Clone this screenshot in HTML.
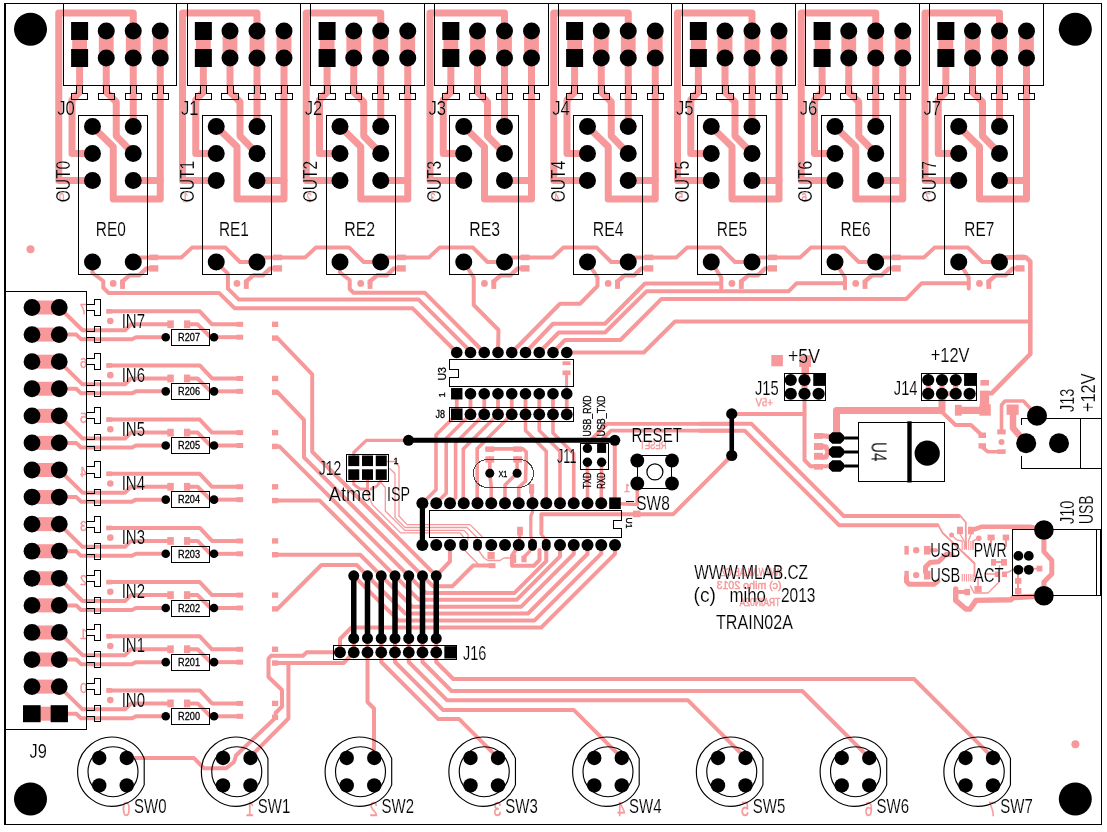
<!DOCTYPE html>
<html><head><meta charset="utf-8"><title>TRAIN02A</title>
<style>
html,body{margin:0;padding:0;background:#fff;}
svg{display:block;}
text{font-family:"Liberation Sans",sans-serif;}
#labels text.b{stroke:#fff;stroke-width:0.15px;}
#labels text.s{stroke:#000;stroke-width:0.3px;}
#cutext text{stroke:#F7999B;stroke-width:0.45px;}
#labels,#cutext{opacity:0.999;}
</style></head><body>
<svg width="1107" height="832" viewBox="0 0 1107 832">
<rect width="1107" height="832" fill="#fff"/>
<g id="cu">
<circle cx="30.5" cy="249.25" r="4" fill="#F7999B"/>
<circle cx="1075.4" cy="744.2" r="4" fill="#F7999B"/>
<path d="M79.6 31 L79.6 58" fill="none" stroke="#F7999B" stroke-width="14.8" stroke-linecap="butt" stroke-linejoin="round"/>
<path d="M106.25 31 L106.25 58" fill="none" stroke="#F7999B" stroke-width="14.8" stroke-linecap="butt" stroke-linejoin="round"/>
<path d="M133.25 31 L133.25 58" fill="none" stroke="#F7999B" stroke-width="14.8" stroke-linecap="butt" stroke-linejoin="round"/>
<path d="M160.25 31 L160.25 58" fill="none" stroke="#F7999B" stroke-width="14.8" stroke-linecap="butt" stroke-linejoin="round"/>
<path d="M79.6 58 L79.6 92 L72 100 L72 153.5 L92.5 153.5" fill="none" stroke="#F7999B" stroke-width="7" stroke-linecap="round" stroke-linejoin="round"/>
<path d="M106.25 58 L106.25 92 L116.25 102 L116.25 136 L133.25 153.5" fill="none" stroke="#F7999B" stroke-width="7" stroke-linecap="round" stroke-linejoin="round"/>
<path d="M133.25 58 L133.25 126.5" fill="none" stroke="#F7999B" stroke-width="7" stroke-linecap="round" stroke-linejoin="round"/>
<path d="M160.25 58 L160.25 199 L113.25 199 L113.25 146.75 L92.5 126.5" fill="none" stroke="#F7999B" stroke-width="7" stroke-linecap="round" stroke-linejoin="round"/>
<path d="M160.25 180.5 L133.25 180.5" fill="none" stroke="#F7999B" stroke-width="7" stroke-linecap="round" stroke-linejoin="round"/>
<path d="M133.25 31 L133.25 13 L58.75 13 L58.75 180.5 L92.5 180.5" fill="none" stroke="#F7999B" stroke-width="7" stroke-linecap="round" stroke-linejoin="round"/>
<path d="M133.25 257.4 L181.5 257.4 L192 247.6 L225.5 247.6 L240 262 L257 262" fill="none" stroke="#F7999B" stroke-width="4" stroke-linecap="round" stroke-linejoin="round"/>
<rect x="149.3" y="254.6" width="9" height="5.6" fill="#F7999B"/>
<rect x="149.3" y="265.2" width="9" height="6.4" fill="#F7999B"/>
<circle cx="113.2" cy="283.4" r="3.4" fill="#F7999B"/>
<path d="M122.5 284 L122.5 281.3 L129.5 275.3 L139 275.3 L146.5 268.4 L151 268.4" fill="none" stroke="#F7999B" stroke-width="4.4" stroke-linecap="round" stroke-linejoin="round"/>
<rect x="120.1" y="279.7" width="4.9" height="9.2" fill="#F7999B"/>
<path d="M203.35 31 L203.35 58" fill="none" stroke="#F7999B" stroke-width="14.8" stroke-linecap="butt" stroke-linejoin="round"/>
<path d="M230 31 L230 58" fill="none" stroke="#F7999B" stroke-width="14.8" stroke-linecap="butt" stroke-linejoin="round"/>
<path d="M257 31 L257 58" fill="none" stroke="#F7999B" stroke-width="14.8" stroke-linecap="butt" stroke-linejoin="round"/>
<path d="M284 31 L284 58" fill="none" stroke="#F7999B" stroke-width="14.8" stroke-linecap="butt" stroke-linejoin="round"/>
<path d="M203.35 58 L203.35 92 L195.75 100 L195.75 153.5 L216.25 153.5" fill="none" stroke="#F7999B" stroke-width="7" stroke-linecap="round" stroke-linejoin="round"/>
<path d="M230 58 L230 92 L240 102 L240 136 L257 153.5" fill="none" stroke="#F7999B" stroke-width="7" stroke-linecap="round" stroke-linejoin="round"/>
<path d="M257 58 L257 126.5" fill="none" stroke="#F7999B" stroke-width="7" stroke-linecap="round" stroke-linejoin="round"/>
<path d="M284 58 L284 199 L237 199 L237 146.75 L216.25 126.5" fill="none" stroke="#F7999B" stroke-width="7" stroke-linecap="round" stroke-linejoin="round"/>
<path d="M284 180.5 L257 180.5" fill="none" stroke="#F7999B" stroke-width="7" stroke-linecap="round" stroke-linejoin="round"/>
<path d="M257 31 L257 13 L182.5 13 L182.5 180.5 L216.25 180.5" fill="none" stroke="#F7999B" stroke-width="7" stroke-linecap="round" stroke-linejoin="round"/>
<path d="M257 257.4 L305.25 257.4 L315.75 247.6 L349.25 247.6 L363.75 262 L380.75 262" fill="none" stroke="#F7999B" stroke-width="4" stroke-linecap="round" stroke-linejoin="round"/>
<rect x="273.05" y="254.6" width="9" height="5.6" fill="#F7999B"/>
<rect x="273.05" y="265.2" width="9" height="6.4" fill="#F7999B"/>
<circle cx="236.95" cy="283.4" r="3.4" fill="#F7999B"/>
<path d="M246.25 284 L246.25 281.3 L253.25 275.3 L262.75 275.3 L270.25 268.4 L274.75 268.4" fill="none" stroke="#F7999B" stroke-width="4.4" stroke-linecap="round" stroke-linejoin="round"/>
<rect x="243.85" y="279.7" width="4.9" height="9.2" fill="#F7999B"/>
<path d="M327.1 31 L327.1 58" fill="none" stroke="#F7999B" stroke-width="14.8" stroke-linecap="butt" stroke-linejoin="round"/>
<path d="M353.75 31 L353.75 58" fill="none" stroke="#F7999B" stroke-width="14.8" stroke-linecap="butt" stroke-linejoin="round"/>
<path d="M380.75 31 L380.75 58" fill="none" stroke="#F7999B" stroke-width="14.8" stroke-linecap="butt" stroke-linejoin="round"/>
<path d="M407.75 31 L407.75 58" fill="none" stroke="#F7999B" stroke-width="14.8" stroke-linecap="butt" stroke-linejoin="round"/>
<path d="M327.1 58 L327.1 92 L319.5 100 L319.5 153.5 L340 153.5" fill="none" stroke="#F7999B" stroke-width="7" stroke-linecap="round" stroke-linejoin="round"/>
<path d="M353.75 58 L353.75 92 L363.75 102 L363.75 136 L380.75 153.5" fill="none" stroke="#F7999B" stroke-width="7" stroke-linecap="round" stroke-linejoin="round"/>
<path d="M380.75 58 L380.75 126.5" fill="none" stroke="#F7999B" stroke-width="7" stroke-linecap="round" stroke-linejoin="round"/>
<path d="M407.75 58 L407.75 199 L360.75 199 L360.75 146.75 L340 126.5" fill="none" stroke="#F7999B" stroke-width="7" stroke-linecap="round" stroke-linejoin="round"/>
<path d="M407.75 180.5 L380.75 180.5" fill="none" stroke="#F7999B" stroke-width="7" stroke-linecap="round" stroke-linejoin="round"/>
<path d="M380.75 31 L380.75 13 L306.25 13 L306.25 180.5 L340 180.5" fill="none" stroke="#F7999B" stroke-width="7" stroke-linecap="round" stroke-linejoin="round"/>
<path d="M380.75 257.4 L429 257.4 L439.5 247.6 L473 247.6 L487.5 262 L504.5 262" fill="none" stroke="#F7999B" stroke-width="4" stroke-linecap="round" stroke-linejoin="round"/>
<rect x="396.8" y="254.6" width="9" height="5.6" fill="#F7999B"/>
<rect x="396.8" y="265.2" width="9" height="6.4" fill="#F7999B"/>
<circle cx="360.7" cy="283.4" r="3.4" fill="#F7999B"/>
<path d="M370 284 L370 281.3 L377 275.3 L386.5 275.3 L394 268.4 L398.5 268.4" fill="none" stroke="#F7999B" stroke-width="4.4" stroke-linecap="round" stroke-linejoin="round"/>
<rect x="367.6" y="279.7" width="4.9" height="9.2" fill="#F7999B"/>
<path d="M450.85 31 L450.85 58" fill="none" stroke="#F7999B" stroke-width="14.8" stroke-linecap="butt" stroke-linejoin="round"/>
<path d="M477.5 31 L477.5 58" fill="none" stroke="#F7999B" stroke-width="14.8" stroke-linecap="butt" stroke-linejoin="round"/>
<path d="M504.5 31 L504.5 58" fill="none" stroke="#F7999B" stroke-width="14.8" stroke-linecap="butt" stroke-linejoin="round"/>
<path d="M531.5 31 L531.5 58" fill="none" stroke="#F7999B" stroke-width="14.8" stroke-linecap="butt" stroke-linejoin="round"/>
<path d="M450.85 58 L450.85 92 L443.25 100 L443.25 153.5 L463.75 153.5" fill="none" stroke="#F7999B" stroke-width="7" stroke-linecap="round" stroke-linejoin="round"/>
<path d="M477.5 58 L477.5 92 L487.5 102 L487.5 136 L504.5 153.5" fill="none" stroke="#F7999B" stroke-width="7" stroke-linecap="round" stroke-linejoin="round"/>
<path d="M504.5 58 L504.5 126.5" fill="none" stroke="#F7999B" stroke-width="7" stroke-linecap="round" stroke-linejoin="round"/>
<path d="M531.5 58 L531.5 199 L484.5 199 L484.5 146.75 L463.75 126.5" fill="none" stroke="#F7999B" stroke-width="7" stroke-linecap="round" stroke-linejoin="round"/>
<path d="M531.5 180.5 L504.5 180.5" fill="none" stroke="#F7999B" stroke-width="7" stroke-linecap="round" stroke-linejoin="round"/>
<path d="M504.5 31 L504.5 13 L430 13 L430 180.5 L463.75 180.5" fill="none" stroke="#F7999B" stroke-width="7" stroke-linecap="round" stroke-linejoin="round"/>
<path d="M504.5 257.4 L552.75 257.4 L563.25 247.6 L596.75 247.6 L611.25 262 L628.25 262" fill="none" stroke="#F7999B" stroke-width="4" stroke-linecap="round" stroke-linejoin="round"/>
<rect x="520.55" y="254.6" width="9" height="5.6" fill="#F7999B"/>
<rect x="520.55" y="265.2" width="9" height="6.4" fill="#F7999B"/>
<circle cx="484.45" cy="283.4" r="3.4" fill="#F7999B"/>
<path d="M493.75 284 L493.75 281.3 L500.75 275.3 L510.25 275.3 L517.75 268.4 L522.25 268.4" fill="none" stroke="#F7999B" stroke-width="4.4" stroke-linecap="round" stroke-linejoin="round"/>
<rect x="491.35" y="279.7" width="4.9" height="9.2" fill="#F7999B"/>
<path d="M574.6 31 L574.6 58" fill="none" stroke="#F7999B" stroke-width="14.8" stroke-linecap="butt" stroke-linejoin="round"/>
<path d="M601.25 31 L601.25 58" fill="none" stroke="#F7999B" stroke-width="14.8" stroke-linecap="butt" stroke-linejoin="round"/>
<path d="M628.25 31 L628.25 58" fill="none" stroke="#F7999B" stroke-width="14.8" stroke-linecap="butt" stroke-linejoin="round"/>
<path d="M655.25 31 L655.25 58" fill="none" stroke="#F7999B" stroke-width="14.8" stroke-linecap="butt" stroke-linejoin="round"/>
<path d="M574.6 58 L574.6 92 L567 100 L567 153.5 L587.5 153.5" fill="none" stroke="#F7999B" stroke-width="7" stroke-linecap="round" stroke-linejoin="round"/>
<path d="M601.25 58 L601.25 92 L611.25 102 L611.25 136 L628.25 153.5" fill="none" stroke="#F7999B" stroke-width="7" stroke-linecap="round" stroke-linejoin="round"/>
<path d="M628.25 58 L628.25 126.5" fill="none" stroke="#F7999B" stroke-width="7" stroke-linecap="round" stroke-linejoin="round"/>
<path d="M655.25 58 L655.25 199 L608.25 199 L608.25 146.75 L587.5 126.5" fill="none" stroke="#F7999B" stroke-width="7" stroke-linecap="round" stroke-linejoin="round"/>
<path d="M655.25 180.5 L628.25 180.5" fill="none" stroke="#F7999B" stroke-width="7" stroke-linecap="round" stroke-linejoin="round"/>
<path d="M628.25 31 L628.25 13 L553.75 13 L553.75 180.5 L587.5 180.5" fill="none" stroke="#F7999B" stroke-width="7" stroke-linecap="round" stroke-linejoin="round"/>
<path d="M628.25 257.4 L676.5 257.4 L687 247.6 L720.5 247.6 L735 262 L752 262" fill="none" stroke="#F7999B" stroke-width="4" stroke-linecap="round" stroke-linejoin="round"/>
<rect x="644.3" y="254.6" width="9" height="5.6" fill="#F7999B"/>
<rect x="644.3" y="265.2" width="9" height="6.4" fill="#F7999B"/>
<circle cx="608.2" cy="283.4" r="3.4" fill="#F7999B"/>
<path d="M617.5 284 L617.5 281.3 L624.5 275.3 L634 275.3 L641.5 268.4 L646 268.4" fill="none" stroke="#F7999B" stroke-width="4.4" stroke-linecap="round" stroke-linejoin="round"/>
<rect x="615.1" y="279.7" width="4.9" height="9.2" fill="#F7999B"/>
<path d="M698.35 31 L698.35 58" fill="none" stroke="#F7999B" stroke-width="14.8" stroke-linecap="butt" stroke-linejoin="round"/>
<path d="M725 31 L725 58" fill="none" stroke="#F7999B" stroke-width="14.8" stroke-linecap="butt" stroke-linejoin="round"/>
<path d="M752 31 L752 58" fill="none" stroke="#F7999B" stroke-width="14.8" stroke-linecap="butt" stroke-linejoin="round"/>
<path d="M779 31 L779 58" fill="none" stroke="#F7999B" stroke-width="14.8" stroke-linecap="butt" stroke-linejoin="round"/>
<path d="M698.35 58 L698.35 92 L690.75 100 L690.75 153.5 L711.25 153.5" fill="none" stroke="#F7999B" stroke-width="7" stroke-linecap="round" stroke-linejoin="round"/>
<path d="M725 58 L725 92 L735 102 L735 136 L752 153.5" fill="none" stroke="#F7999B" stroke-width="7" stroke-linecap="round" stroke-linejoin="round"/>
<path d="M752 58 L752 126.5" fill="none" stroke="#F7999B" stroke-width="7" stroke-linecap="round" stroke-linejoin="round"/>
<path d="M779 58 L779 199 L732 199 L732 146.75 L711.25 126.5" fill="none" stroke="#F7999B" stroke-width="7" stroke-linecap="round" stroke-linejoin="round"/>
<path d="M779 180.5 L752 180.5" fill="none" stroke="#F7999B" stroke-width="7" stroke-linecap="round" stroke-linejoin="round"/>
<path d="M752 31 L752 13 L677.5 13 L677.5 180.5 L711.25 180.5" fill="none" stroke="#F7999B" stroke-width="7" stroke-linecap="round" stroke-linejoin="round"/>
<path d="M752 257.4 L800.25 257.4 L810.75 247.6 L844.25 247.6 L858.75 262 L875.75 262" fill="none" stroke="#F7999B" stroke-width="4" stroke-linecap="round" stroke-linejoin="round"/>
<rect x="768.05" y="254.6" width="9" height="5.6" fill="#F7999B"/>
<rect x="768.05" y="265.2" width="9" height="6.4" fill="#F7999B"/>
<circle cx="731.95" cy="283.4" r="3.4" fill="#F7999B"/>
<path d="M741.25 284 L741.25 281.3 L748.25 275.3 L757.75 275.3 L765.25 268.4 L769.75 268.4" fill="none" stroke="#F7999B" stroke-width="4.4" stroke-linecap="round" stroke-linejoin="round"/>
<rect x="738.85" y="279.7" width="4.9" height="9.2" fill="#F7999B"/>
<path d="M822.1 31 L822.1 58" fill="none" stroke="#F7999B" stroke-width="14.8" stroke-linecap="butt" stroke-linejoin="round"/>
<path d="M848.75 31 L848.75 58" fill="none" stroke="#F7999B" stroke-width="14.8" stroke-linecap="butt" stroke-linejoin="round"/>
<path d="M875.75 31 L875.75 58" fill="none" stroke="#F7999B" stroke-width="14.8" stroke-linecap="butt" stroke-linejoin="round"/>
<path d="M902.75 31 L902.75 58" fill="none" stroke="#F7999B" stroke-width="14.8" stroke-linecap="butt" stroke-linejoin="round"/>
<path d="M822.1 58 L822.1 92 L814.5 100 L814.5 153.5 L835 153.5" fill="none" stroke="#F7999B" stroke-width="7" stroke-linecap="round" stroke-linejoin="round"/>
<path d="M848.75 58 L848.75 92 L858.75 102 L858.75 136 L875.75 153.5" fill="none" stroke="#F7999B" stroke-width="7" stroke-linecap="round" stroke-linejoin="round"/>
<path d="M875.75 58 L875.75 126.5" fill="none" stroke="#F7999B" stroke-width="7" stroke-linecap="round" stroke-linejoin="round"/>
<path d="M902.75 58 L902.75 199 L855.75 199 L855.75 146.75 L835 126.5" fill="none" stroke="#F7999B" stroke-width="7" stroke-linecap="round" stroke-linejoin="round"/>
<path d="M902.75 180.5 L875.75 180.5" fill="none" stroke="#F7999B" stroke-width="7" stroke-linecap="round" stroke-linejoin="round"/>
<path d="M875.75 31 L875.75 13 L801.25 13 L801.25 180.5 L835 180.5" fill="none" stroke="#F7999B" stroke-width="7" stroke-linecap="round" stroke-linejoin="round"/>
<path d="M875.75 257.4 L924 257.4 L934.5 247.6 L968 247.6 L982.5 262 L999.5 262" fill="none" stroke="#F7999B" stroke-width="4" stroke-linecap="round" stroke-linejoin="round"/>
<rect x="891.8" y="254.6" width="9" height="5.6" fill="#F7999B"/>
<rect x="891.8" y="265.2" width="9" height="6.4" fill="#F7999B"/>
<circle cx="855.7" cy="283.4" r="3.4" fill="#F7999B"/>
<path d="M865 284 L865 281.3 L872 275.3 L881.5 275.3 L889 268.4 L893.5 268.4" fill="none" stroke="#F7999B" stroke-width="4.4" stroke-linecap="round" stroke-linejoin="round"/>
<rect x="862.6" y="279.7" width="4.9" height="9.2" fill="#F7999B"/>
<path d="M945.85 31 L945.85 58" fill="none" stroke="#F7999B" stroke-width="14.8" stroke-linecap="butt" stroke-linejoin="round"/>
<path d="M972.5 31 L972.5 58" fill="none" stroke="#F7999B" stroke-width="14.8" stroke-linecap="butt" stroke-linejoin="round"/>
<path d="M999.5 31 L999.5 58" fill="none" stroke="#F7999B" stroke-width="14.8" stroke-linecap="butt" stroke-linejoin="round"/>
<path d="M1026.5 31 L1026.5 58" fill="none" stroke="#F7999B" stroke-width="14.8" stroke-linecap="butt" stroke-linejoin="round"/>
<path d="M945.85 58 L945.85 92 L938.25 100 L938.25 153.5 L958.75 153.5" fill="none" stroke="#F7999B" stroke-width="7" stroke-linecap="round" stroke-linejoin="round"/>
<path d="M972.5 58 L972.5 92 L982.5 102 L982.5 136 L999.5 153.5" fill="none" stroke="#F7999B" stroke-width="7" stroke-linecap="round" stroke-linejoin="round"/>
<path d="M999.5 58 L999.5 126.5" fill="none" stroke="#F7999B" stroke-width="7" stroke-linecap="round" stroke-linejoin="round"/>
<path d="M1026.5 58 L1026.5 199 L979.5 199 L979.5 146.75 L958.75 126.5" fill="none" stroke="#F7999B" stroke-width="7" stroke-linecap="round" stroke-linejoin="round"/>
<path d="M1026.5 180.5 L999.5 180.5" fill="none" stroke="#F7999B" stroke-width="7" stroke-linecap="round" stroke-linejoin="round"/>
<path d="M999.5 31 L999.5 13 L925 13 L925 180.5 L958.75 180.5" fill="none" stroke="#F7999B" stroke-width="7" stroke-linecap="round" stroke-linejoin="round"/>
<rect x="1015.55" y="254.6" width="9" height="5.6" fill="#F7999B"/>
<rect x="1015.55" y="265.2" width="9" height="6.4" fill="#F7999B"/>
<circle cx="979.45" cy="283.4" r="3.4" fill="#F7999B"/>
<path d="M988.75 284 L988.75 281.3 L995.75 275.3 L1005.25 275.3 L1012.75 268.4 L1017.25 268.4" fill="none" stroke="#F7999B" stroke-width="4.4" stroke-linecap="round" stroke-linejoin="round"/>
<rect x="986.35" y="279.7" width="4.9" height="9.2" fill="#F7999B"/>
<path d="M92.5 262 L92.5 273 L103.3 281 L103.3 287.8 L108.5 292.9 L219 292.9 L234.5 308.2 L412.4 308.2 L456.75 352.5" fill="none" stroke="#F7999B" stroke-width="4" stroke-linecap="round" stroke-linejoin="round"/>
<path d="M216.25 262 L227.9 273.7 L227.9 288.6 L239 299.6 L418.7 299.6 L470.5 351.5" fill="none" stroke="#F7999B" stroke-width="4" stroke-linecap="round" stroke-linejoin="round"/>
<path d="M340 262 L340 272.5 L349.7 280 L349.7 289 L353.5 292.8 L425 292.8 L484.25 352.5" fill="none" stroke="#F7999B" stroke-width="4" stroke-linecap="round" stroke-linejoin="round"/>
<path d="M463.75 262 L473.75 277.5 L473.75 305 L498.5 330 L498 352.5" fill="none" stroke="#F7999B" stroke-width="4" stroke-linecap="round" stroke-linejoin="round"/>
<path d="M587.5 262 L597.5 277.5 L597.5 286 L580 303.75 L560 303.75 L511.75 352.5" fill="none" stroke="#F7999B" stroke-width="4" stroke-linecap="round" stroke-linejoin="round"/>
<path d="M711.25 262 L721.25 277.5 L721.25 288.5" fill="none" stroke="#F7999B" stroke-width="4" stroke-linecap="round" stroke-linejoin="round"/>
<path d="M721.25 283.5 L645 283.5 L605 323.75 L553 323.75 L525.5 352.5" fill="none" stroke="#F7999B" stroke-width="4" stroke-linecap="round" stroke-linejoin="round"/>
<path d="M835 262 L845 277.5 L845 288.5" fill="none" stroke="#F7999B" stroke-width="4" stroke-linecap="round" stroke-linejoin="round"/>
<path d="M845 283.3 L796.5 283.3 L788.5 291.3 L646.5 291.3 L605 332.5 L558.75 332.5 L539.25 352.5" fill="none" stroke="#F7999B" stroke-width="4" stroke-linecap="round" stroke-linejoin="round"/>
<path d="M958.75 262 L968.75 277.5 L968.75 288.5" fill="none" stroke="#F7999B" stroke-width="4" stroke-linecap="round" stroke-linejoin="round"/>
<path d="M968.75 283.3 L921.5 283.3 L906.3 298.9 L661.5 298.9 L620.4 340 L565 340 L553 352.5" fill="none" stroke="#F7999B" stroke-width="4" stroke-linecap="round" stroke-linejoin="round"/>
<path d="M566.75 352.5 L643.75 352.5 L675 321.5 L1030.3 321.5" fill="none" stroke="#F7999B" stroke-width="4" stroke-linecap="round" stroke-linejoin="round"/>
<path d="M999.5 257.4 L1026 257.4 L1030.3 261.5 L1030.3 354 L991.6 393.3 L985.5 393.3" fill="none" stroke="#F7999B" stroke-width="4.6" stroke-linecap="round" stroke-linejoin="round"/>
<path d="M32 307.5 L59.25 307.5" fill="none" stroke="#F7999B" stroke-width="14" stroke-linecap="butt" stroke-linejoin="round"/>
<path d="M32 334.58 L59.25 334.58" fill="none" stroke="#F7999B" stroke-width="14" stroke-linecap="butt" stroke-linejoin="round"/>
<path d="M107.5 311.3 L199.8 311.3 L212 324.3 L241.5 324.3" fill="none" stroke="#F7999B" stroke-width="4" stroke-linecap="butt" stroke-linejoin="round"/>
<rect x="106.2" y="309" width="6" height="4.6" fill="#F7999B"/>
<rect x="236.5" y="321.8" width="6.7" height="5" fill="#F7999B"/>
<path d="M59.25 307.5 L82.5 330.2 L125 330.2 L131 324.3 L170 324.3" fill="none" stroke="#F7999B" stroke-width="4" stroke-linecap="round" stroke-linejoin="round"/>
<rect x="167.3" y="320.4" width="6.5" height="7.8" fill="#F7999B"/>
<rect x="184" y="320.4" width="6.2" height="7.8" fill="#F7999B"/>
<path d="M187 324.3 L197.6 324.3 L209.5 336.18 L214 337.18" fill="none" stroke="#F7999B" stroke-width="4" stroke-linecap="round" stroke-linejoin="round"/>
<path d="M59.25 334.58 L76.3 334.58 L81 339.18 L132 339.18 L136 337.18 L165.7 337.18" fill="none" stroke="#F7999B" stroke-width="4" stroke-linecap="round" stroke-linejoin="round"/>
<path d="M214 337.18 L241.5 337.18" fill="none" stroke="#F7999B" stroke-width="4" stroke-linecap="butt" stroke-linejoin="round"/>
<rect x="236.5" y="334.68" width="6.7" height="5" fill="#F7999B"/>
<circle cx="110.3" cy="321" r="3.3" fill="#F7999B"/>
<rect x="272" y="321.6" width="6.2" height="5.4" fill="#F7999B"/>
<rect x="272" y="335.38" width="6.2" height="5.4" fill="#F7999B"/>
<path d="M32 361.66 L59.25 361.66" fill="none" stroke="#F7999B" stroke-width="14" stroke-linecap="butt" stroke-linejoin="round"/>
<path d="M32 388.74 L59.25 388.74" fill="none" stroke="#F7999B" stroke-width="14" stroke-linecap="butt" stroke-linejoin="round"/>
<path d="M107.5 365.46 L199.8 365.46 L212 378.46 L241.5 378.46" fill="none" stroke="#F7999B" stroke-width="4" stroke-linecap="butt" stroke-linejoin="round"/>
<rect x="106.2" y="363.16" width="6" height="4.6" fill="#F7999B"/>
<rect x="236.5" y="375.96" width="6.7" height="5" fill="#F7999B"/>
<path d="M59.25 361.66 L82.5 384.36 L125 384.36 L131 378.46 L170 378.46" fill="none" stroke="#F7999B" stroke-width="4" stroke-linecap="round" stroke-linejoin="round"/>
<rect x="167.3" y="374.56" width="6.5" height="7.8" fill="#F7999B"/>
<rect x="184" y="374.56" width="6.2" height="7.8" fill="#F7999B"/>
<path d="M187 378.46 L197.6 378.46 L209.5 390.34 L214 391.34" fill="none" stroke="#F7999B" stroke-width="4" stroke-linecap="round" stroke-linejoin="round"/>
<path d="M59.25 388.74 L76.3 388.74 L81 393.34 L132 393.34 L136 391.34 L165.7 391.34" fill="none" stroke="#F7999B" stroke-width="4" stroke-linecap="round" stroke-linejoin="round"/>
<path d="M214 391.34 L241.5 391.34" fill="none" stroke="#F7999B" stroke-width="4" stroke-linecap="butt" stroke-linejoin="round"/>
<rect x="236.5" y="388.84" width="6.7" height="5" fill="#F7999B"/>
<circle cx="110.3" cy="375.16" r="3.3" fill="#F7999B"/>
<rect x="272" y="375.76" width="6.2" height="5.4" fill="#F7999B"/>
<rect x="272" y="389.54" width="6.2" height="5.4" fill="#F7999B"/>
<path d="M32 415.82 L59.25 415.82" fill="none" stroke="#F7999B" stroke-width="14" stroke-linecap="butt" stroke-linejoin="round"/>
<path d="M32 442.9 L59.25 442.9" fill="none" stroke="#F7999B" stroke-width="14" stroke-linecap="butt" stroke-linejoin="round"/>
<path d="M107.5 419.62 L199.8 419.62 L212 432.62 L241.5 432.62" fill="none" stroke="#F7999B" stroke-width="4" stroke-linecap="butt" stroke-linejoin="round"/>
<rect x="106.2" y="417.32" width="6" height="4.6" fill="#F7999B"/>
<rect x="236.5" y="430.12" width="6.7" height="5" fill="#F7999B"/>
<path d="M59.25 415.82 L82.5 438.52 L125 438.52 L131 432.62 L170 432.62" fill="none" stroke="#F7999B" stroke-width="4" stroke-linecap="round" stroke-linejoin="round"/>
<rect x="167.3" y="428.72" width="6.5" height="7.8" fill="#F7999B"/>
<rect x="184" y="428.72" width="6.2" height="7.8" fill="#F7999B"/>
<path d="M187 432.62 L197.6 432.62 L209.5 444.5 L214 445.5" fill="none" stroke="#F7999B" stroke-width="4" stroke-linecap="round" stroke-linejoin="round"/>
<path d="M59.25 442.9 L76.3 442.9 L81 447.5 L132 447.5 L136 445.5 L165.7 445.5" fill="none" stroke="#F7999B" stroke-width="4" stroke-linecap="round" stroke-linejoin="round"/>
<path d="M214 445.5 L241.5 445.5" fill="none" stroke="#F7999B" stroke-width="4" stroke-linecap="butt" stroke-linejoin="round"/>
<rect x="236.5" y="443" width="6.7" height="5" fill="#F7999B"/>
<circle cx="110.3" cy="429.32" r="3.3" fill="#F7999B"/>
<rect x="272" y="429.92" width="6.2" height="5.4" fill="#F7999B"/>
<rect x="272" y="443.7" width="6.2" height="5.4" fill="#F7999B"/>
<path d="M32 469.98 L59.25 469.98" fill="none" stroke="#F7999B" stroke-width="14" stroke-linecap="butt" stroke-linejoin="round"/>
<path d="M32 497.06 L59.25 497.06" fill="none" stroke="#F7999B" stroke-width="14" stroke-linecap="butt" stroke-linejoin="round"/>
<path d="M107.5 473.78 L199.8 473.78 L212 486.78 L241.5 486.78" fill="none" stroke="#F7999B" stroke-width="4" stroke-linecap="butt" stroke-linejoin="round"/>
<rect x="106.2" y="471.48" width="6" height="4.6" fill="#F7999B"/>
<rect x="236.5" y="484.28" width="6.7" height="5" fill="#F7999B"/>
<path d="M59.25 469.98 L82.5 492.68 L125 492.68 L131 486.78 L170 486.78" fill="none" stroke="#F7999B" stroke-width="4" stroke-linecap="round" stroke-linejoin="round"/>
<rect x="167.3" y="482.88" width="6.5" height="7.8" fill="#F7999B"/>
<rect x="184" y="482.88" width="6.2" height="7.8" fill="#F7999B"/>
<path d="M187 486.78 L197.6 486.78 L209.5 498.66 L214 499.66" fill="none" stroke="#F7999B" stroke-width="4" stroke-linecap="round" stroke-linejoin="round"/>
<path d="M59.25 497.06 L76.3 497.06 L81 501.66 L132 501.66 L136 499.66 L165.7 499.66" fill="none" stroke="#F7999B" stroke-width="4" stroke-linecap="round" stroke-linejoin="round"/>
<path d="M214 499.66 L241.5 499.66" fill="none" stroke="#F7999B" stroke-width="4" stroke-linecap="butt" stroke-linejoin="round"/>
<rect x="236.5" y="497.16" width="6.7" height="5" fill="#F7999B"/>
<circle cx="110.3" cy="483.48" r="3.3" fill="#F7999B"/>
<rect x="272" y="484.08" width="6.2" height="5.4" fill="#F7999B"/>
<rect x="272" y="497.86" width="6.2" height="5.4" fill="#F7999B"/>
<path d="M32 524.14 L59.25 524.14" fill="none" stroke="#F7999B" stroke-width="14" stroke-linecap="butt" stroke-linejoin="round"/>
<path d="M32 551.22 L59.25 551.22" fill="none" stroke="#F7999B" stroke-width="14" stroke-linecap="butt" stroke-linejoin="round"/>
<path d="M107.5 527.94 L199.8 527.94 L212 540.94 L241.5 540.94" fill="none" stroke="#F7999B" stroke-width="4" stroke-linecap="butt" stroke-linejoin="round"/>
<rect x="106.2" y="525.64" width="6" height="4.6" fill="#F7999B"/>
<rect x="236.5" y="538.44" width="6.7" height="5" fill="#F7999B"/>
<path d="M59.25 524.14 L82.5 546.84 L125 546.84 L131 540.94 L170 540.94" fill="none" stroke="#F7999B" stroke-width="4" stroke-linecap="round" stroke-linejoin="round"/>
<rect x="167.3" y="537.04" width="6.5" height="7.8" fill="#F7999B"/>
<rect x="184" y="537.04" width="6.2" height="7.8" fill="#F7999B"/>
<path d="M187 540.94 L197.6 540.94 L209.5 552.82 L214 553.82" fill="none" stroke="#F7999B" stroke-width="4" stroke-linecap="round" stroke-linejoin="round"/>
<path d="M59.25 551.22 L76.3 551.22 L81 555.82 L132 555.82 L136 553.82 L165.7 553.82" fill="none" stroke="#F7999B" stroke-width="4" stroke-linecap="round" stroke-linejoin="round"/>
<path d="M214 553.82 L241.5 553.82" fill="none" stroke="#F7999B" stroke-width="4" stroke-linecap="butt" stroke-linejoin="round"/>
<rect x="236.5" y="551.32" width="6.7" height="5" fill="#F7999B"/>
<circle cx="110.3" cy="537.64" r="3.3" fill="#F7999B"/>
<rect x="272" y="538.24" width="6.2" height="5.4" fill="#F7999B"/>
<rect x="272" y="552.02" width="6.2" height="5.4" fill="#F7999B"/>
<path d="M32 578.3 L59.25 578.3" fill="none" stroke="#F7999B" stroke-width="14" stroke-linecap="butt" stroke-linejoin="round"/>
<path d="M32 605.38 L59.25 605.38" fill="none" stroke="#F7999B" stroke-width="14" stroke-linecap="butt" stroke-linejoin="round"/>
<path d="M107.5 582.1 L199.8 582.1 L212 595.1 L241.5 595.1" fill="none" stroke="#F7999B" stroke-width="4" stroke-linecap="butt" stroke-linejoin="round"/>
<rect x="106.2" y="579.8" width="6" height="4.6" fill="#F7999B"/>
<rect x="236.5" y="592.6" width="6.7" height="5" fill="#F7999B"/>
<path d="M59.25 578.3 L82.5 601 L125 601 L131 595.1 L170 595.1" fill="none" stroke="#F7999B" stroke-width="4" stroke-linecap="round" stroke-linejoin="round"/>
<rect x="167.3" y="591.2" width="6.5" height="7.8" fill="#F7999B"/>
<rect x="184" y="591.2" width="6.2" height="7.8" fill="#F7999B"/>
<path d="M187 595.1 L197.6 595.1 L209.5 606.98 L214 607.98" fill="none" stroke="#F7999B" stroke-width="4" stroke-linecap="round" stroke-linejoin="round"/>
<path d="M59.25 605.38 L76.3 605.38 L81 609.98 L132 609.98 L136 607.98 L165.7 607.98" fill="none" stroke="#F7999B" stroke-width="4" stroke-linecap="round" stroke-linejoin="round"/>
<path d="M214 607.98 L241.5 607.98" fill="none" stroke="#F7999B" stroke-width="4" stroke-linecap="butt" stroke-linejoin="round"/>
<rect x="236.5" y="605.48" width="6.7" height="5" fill="#F7999B"/>
<circle cx="110.3" cy="591.8" r="3.3" fill="#F7999B"/>
<rect x="272" y="592.4" width="6.2" height="5.4" fill="#F7999B"/>
<rect x="272" y="606.18" width="6.2" height="5.4" fill="#F7999B"/>
<path d="M32 632.46 L59.25 632.46" fill="none" stroke="#F7999B" stroke-width="14" stroke-linecap="butt" stroke-linejoin="round"/>
<path d="M32 659.54 L59.25 659.54" fill="none" stroke="#F7999B" stroke-width="14" stroke-linecap="butt" stroke-linejoin="round"/>
<path d="M107.5 636.26 L199.8 636.26 L212 649.26 L241.5 649.26" fill="none" stroke="#F7999B" stroke-width="4" stroke-linecap="butt" stroke-linejoin="round"/>
<rect x="106.2" y="633.96" width="6" height="4.6" fill="#F7999B"/>
<rect x="236.5" y="646.76" width="6.7" height="5" fill="#F7999B"/>
<path d="M59.25 632.46 L82.5 655.16 L125 655.16 L131 649.26 L170 649.26" fill="none" stroke="#F7999B" stroke-width="4" stroke-linecap="round" stroke-linejoin="round"/>
<rect x="167.3" y="645.36" width="6.5" height="7.8" fill="#F7999B"/>
<rect x="184" y="645.36" width="6.2" height="7.8" fill="#F7999B"/>
<path d="M187 649.26 L197.6 649.26 L209.5 661.14 L214 662.14" fill="none" stroke="#F7999B" stroke-width="4" stroke-linecap="round" stroke-linejoin="round"/>
<path d="M59.25 659.54 L76.3 659.54 L81 664.14 L132 664.14 L136 662.14 L165.7 662.14" fill="none" stroke="#F7999B" stroke-width="4" stroke-linecap="round" stroke-linejoin="round"/>
<path d="M214 662.14 L241.5 662.14" fill="none" stroke="#F7999B" stroke-width="4" stroke-linecap="butt" stroke-linejoin="round"/>
<rect x="236.5" y="659.64" width="6.7" height="5" fill="#F7999B"/>
<circle cx="110.3" cy="645.96" r="3.3" fill="#F7999B"/>
<rect x="272" y="646.56" width="6.2" height="5.4" fill="#F7999B"/>
<rect x="272" y="660.34" width="6.2" height="5.4" fill="#F7999B"/>
<path d="M32 686.62 L59.25 686.62" fill="none" stroke="#F7999B" stroke-width="14" stroke-linecap="butt" stroke-linejoin="round"/>
<path d="M32 713.7 L59.25 713.7" fill="none" stroke="#F7999B" stroke-width="14" stroke-linecap="butt" stroke-linejoin="round"/>
<path d="M107.5 690.42 L199.8 690.42 L212 703.42 L241.5 703.42" fill="none" stroke="#F7999B" stroke-width="4" stroke-linecap="butt" stroke-linejoin="round"/>
<rect x="106.2" y="688.12" width="6" height="4.6" fill="#F7999B"/>
<rect x="236.5" y="700.92" width="6.7" height="5" fill="#F7999B"/>
<path d="M59.25 686.62 L82.5 709.32 L125 709.32 L131 703.42 L170 703.42" fill="none" stroke="#F7999B" stroke-width="4" stroke-linecap="round" stroke-linejoin="round"/>
<rect x="167.3" y="699.52" width="6.5" height="7.8" fill="#F7999B"/>
<rect x="184" y="699.52" width="6.2" height="7.8" fill="#F7999B"/>
<path d="M187 703.42 L197.6 703.42 L209.5 715.3 L214 716.3" fill="none" stroke="#F7999B" stroke-width="4" stroke-linecap="round" stroke-linejoin="round"/>
<path d="M59.25 713.7 L76.3 713.7 L81 718.3 L132 718.3 L136 716.3 L165.7 716.3" fill="none" stroke="#F7999B" stroke-width="4" stroke-linecap="round" stroke-linejoin="round"/>
<path d="M214 716.3 L241.5 716.3" fill="none" stroke="#F7999B" stroke-width="4" stroke-linecap="butt" stroke-linejoin="round"/>
<rect x="236.5" y="713.8" width="6.7" height="5" fill="#F7999B"/>
<circle cx="110.3" cy="700.12" r="3.3" fill="#F7999B"/>
<rect x="272" y="700.72" width="6.2" height="5.4" fill="#F7999B"/>
<rect x="272" y="714.5" width="6.2" height="5.4" fill="#F7999B"/>
<path d="M277.5 338.08 L312.2 374.38 L312.2 451.75 L436.25 575.8" fill="none" stroke="#F7999B" stroke-width="4" stroke-linecap="round" stroke-linejoin="round"/>
<path d="M277.5 392.24 L304 419.84 L304 457.3 L422.5 575.8" fill="none" stroke="#F7999B" stroke-width="4" stroke-linecap="round" stroke-linejoin="round"/>
<path d="M275 446.4 L279.35 446.4 L408.75 575.8" fill="none" stroke="#F7999B" stroke-width="4" stroke-linecap="round" stroke-linejoin="round"/>
<path d="M275 500.56 L319.76 500.56 L395 575.8" fill="none" stroke="#F7999B" stroke-width="4" stroke-linecap="round" stroke-linejoin="round"/>
<path d="M275 554.72 L360.17 554.72 L381.25 575.8" fill="none" stroke="#F7999B" stroke-width="4" stroke-linecap="round" stroke-linejoin="round"/>
<path d="M277.5 608.88 L321.38 565 L356.7 565 L367.5 575.8" fill="none" stroke="#F7999B" stroke-width="4" stroke-linecap="round" stroke-linejoin="round"/>
<path d="M436.25 575.8 L449.9 561.5 L450 544.9" fill="none" stroke="#F7999B" stroke-width="4" stroke-linecap="round" stroke-linejoin="round"/>
<path d="M422.5 575.8 L432.9 586.2 L452.5 586.2 L473 565.6 L492 565.6" fill="none" stroke="#F7999B" stroke-width="4" stroke-linecap="round" stroke-linejoin="round"/>
<rect x="488.5" y="563.2" width="7" height="5" fill="#F7999B"/>
<path d="M408.75 575.8 L425.85 592.9 L514.55 592.9 L546.25 561.2 L546.25 544.9" fill="none" stroke="#F7999B" stroke-width="4" stroke-linecap="round" stroke-linejoin="round"/>
<path d="M395 575.8 L419 599.8 L516.6 599.8 L560 556.4 L560 544.9" fill="none" stroke="#F7999B" stroke-width="4" stroke-linecap="round" stroke-linejoin="round"/>
<path d="M381.25 575.8 L412.25 606.8 L520.95 606.8 L573.75 554 L573.75 544.9" fill="none" stroke="#F7999B" stroke-width="4" stroke-linecap="round" stroke-linejoin="round"/>
<path d="M367.5 575.8 L405.2 613.5 L528 613.5 L587.5 554 L587.5 544.9" fill="none" stroke="#F7999B" stroke-width="4" stroke-linecap="round" stroke-linejoin="round"/>
<path d="M353.75 575.8 L398.35 620.4 L534.55 620.4 L601.25 553.7 L601.25 544.9" fill="none" stroke="#F7999B" stroke-width="4" stroke-linecap="round" stroke-linejoin="round"/>
<path d="M340 652.3 L340 639 L351.5 627.4 L541.4 627.4 L615 553.8 L615 544.9" fill="none" stroke="#F7999B" stroke-width="4" stroke-linecap="round" stroke-linejoin="round"/>
<path d="M353.75 638.4 L353.75 652.3" fill="none" stroke="#F7999B" stroke-width="4" stroke-linecap="round" stroke-linejoin="round"/>
<path d="M367.5 638.4 L367.5 652.3" fill="none" stroke="#F7999B" stroke-width="4" stroke-linecap="round" stroke-linejoin="round"/>
<path d="M381.25 638.4 L381.25 652.3" fill="none" stroke="#F7999B" stroke-width="4" stroke-linecap="round" stroke-linejoin="round"/>
<path d="M395 638.4 L395 652.3" fill="none" stroke="#F7999B" stroke-width="4" stroke-linecap="round" stroke-linejoin="round"/>
<path d="M408.75 638.4 L408.75 652.3" fill="none" stroke="#F7999B" stroke-width="4" stroke-linecap="round" stroke-linejoin="round"/>
<path d="M422.5 638.4 L422.5 652.3" fill="none" stroke="#F7999B" stroke-width="4" stroke-linecap="round" stroke-linejoin="round"/>
<path d="M436.25 638.4 L436.25 652.3" fill="none" stroke="#F7999B" stroke-width="4" stroke-linecap="round" stroke-linejoin="round"/>
<path d="M436.25 652.3 L436.25 662 L453.25 679 L914.05 679 L993 757.95" fill="none" stroke="#F7999B" stroke-width="4" stroke-linecap="round" stroke-linejoin="round"/>
<path d="M422.5 652.3 L422.5 662 L451.5 691 L802.3 691 L869.25 757.95" fill="none" stroke="#F7999B" stroke-width="4" stroke-linecap="round" stroke-linejoin="round"/>
<path d="M408.75 652.3 L408.75 662 L446.95 700.2 L687.75 700.2 L745.5 757.95" fill="none" stroke="#F7999B" stroke-width="4" stroke-linecap="round" stroke-linejoin="round"/>
<path d="M395 652.3 L395 662 L442.9 709.9 L573.7 709.9 L621.75 757.95" fill="none" stroke="#F7999B" stroke-width="4" stroke-linecap="round" stroke-linejoin="round"/>
<path d="M381.25 652.3 L381.25 662 L438.35 719.1 L459.15 719.1 L498 757.95" fill="none" stroke="#F7999B" stroke-width="4" stroke-linecap="round" stroke-linejoin="round"/>
<path d="M367.5 652.3 L367.5 702 L374 708.5 L374 757.95" fill="none" stroke="#F7999B" stroke-width="4" stroke-linecap="round" stroke-linejoin="round"/>
<path d="M275 663.04 L343.5 663.04 L353.75 652.3" fill="none" stroke="#F7999B" stroke-width="4" stroke-linecap="round" stroke-linejoin="round"/>
<path d="M288.4 663.04 L288.4 718.5 L255 752 L250.5 757.95" fill="none" stroke="#F7999B" stroke-width="4" stroke-linecap="round" stroke-linejoin="round"/>
<path d="M340 652.3 L306.5 652.3 L303 655.8 L271 655.8 L268.5 658.5 L268.5 677 L282 690 L282 706.5 L275.5 713" fill="none" stroke="#F7999B" stroke-width="4" stroke-linecap="round" stroke-linejoin="round"/>
<path d="M126.75 757.95 L193.75 757.95 L204 768.25 L226.25 768.25 L234 762 L236 755.5 L276 717.2" fill="none" stroke="#F7999B" stroke-width="4" stroke-linecap="round" stroke-linejoin="round"/>
<path d="M456.75 393.75 L456.75 414.3" fill="none" stroke="#F7999B" stroke-width="3.8" stroke-linecap="round" stroke-linejoin="round"/>
<path d="M470.5 393.75 L470.5 414.3" fill="none" stroke="#F7999B" stroke-width="3.8" stroke-linecap="round" stroke-linejoin="round"/>
<path d="M484.25 393.75 L484.25 414.3" fill="none" stroke="#F7999B" stroke-width="3.8" stroke-linecap="round" stroke-linejoin="round"/>
<path d="M498 393.75 L498 414.3" fill="none" stroke="#F7999B" stroke-width="3.8" stroke-linecap="round" stroke-linejoin="round"/>
<path d="M511.75 393.75 L511.75 414.3" fill="none" stroke="#F7999B" stroke-width="3.8" stroke-linecap="round" stroke-linejoin="round"/>
<path d="M525.5 393.75 L525.5 414.3" fill="none" stroke="#F7999B" stroke-width="3.8" stroke-linecap="round" stroke-linejoin="round"/>
<path d="M539.25 393.75 L539.25 414.3" fill="none" stroke="#F7999B" stroke-width="3.8" stroke-linecap="round" stroke-linejoin="round"/>
<path d="M553 393.75 L553 414.3" fill="none" stroke="#F7999B" stroke-width="3.8" stroke-linecap="round" stroke-linejoin="round"/>
<path d="M566.75 393.75 L566.75 414.3" fill="none" stroke="#F7999B" stroke-width="3.8" stroke-linecap="round" stroke-linejoin="round"/>
<rect x="562.5" y="361.3" width="8" height="3.8" fill="#F7999B"/>
<rect x="562.5" y="370.5" width="8" height="4.6" fill="#F7999B"/>
<path d="M566.6 372 L566.6 393" fill="none" stroke="#F7999B" stroke-width="3" stroke-linecap="round" stroke-linejoin="round"/>
<path d="M456.75 414.3 L436 435.05 L436 489.65 L422.4 503.25" fill="none" stroke="#F7999B" stroke-width="3.6" stroke-linecap="round" stroke-linejoin="round"/>
<path d="M470.5 414.3 L446.2 438.6 L446.2 493.3 L436.25 503.25" fill="none" stroke="#F7999B" stroke-width="3.6" stroke-linecap="round" stroke-linejoin="round"/>
<path d="M484.25 414.3 L455.6 442.95 L455.6 497.65 L450 503.25" fill="none" stroke="#F7999B" stroke-width="3.6" stroke-linecap="round" stroke-linejoin="round"/>
<path d="M498 414.3 L463.3 449 L463.3 502.8 L463.75 503.25" fill="none" stroke="#F7999B" stroke-width="3.6" stroke-linecap="round" stroke-linejoin="round"/>
<path d="M511.75 414.3 L477.2 448.85 L477.2 502.95 L477.5 503.25" fill="none" stroke="#F7999B" stroke-width="3.6" stroke-linecap="round" stroke-linejoin="round"/>
<path d="M525.5 414.3 L525.5 430.4 L546.25 451.15 L546.25 503.25" fill="none" stroke="#F7999B" stroke-width="3.6" stroke-linecap="round" stroke-linejoin="round"/>
<path d="M539.25 414.3 L539.25 430.4 L560 451.15 L560 503.25" fill="none" stroke="#F7999B" stroke-width="3.6" stroke-linecap="round" stroke-linejoin="round"/>
<path d="M553 414.3 L553 433 L573.75 453.75 L573.75 503.25" fill="none" stroke="#F7999B" stroke-width="3.6" stroke-linecap="round" stroke-linejoin="round"/>
<path d="M489.8 458 L489.8 473.2 L491.25 487 L491.25 503.25" fill="none" stroke="#F7999B" stroke-width="3.6" stroke-linecap="round" stroke-linejoin="round"/>
<path d="M517.1 458 L517.1 473.2 L505 485 L505 503.25" fill="none" stroke="#F7999B" stroke-width="3.6" stroke-linecap="round" stroke-linejoin="round"/>
<rect x="485.4" y="456.3" width="8.8" height="6.3" fill="#F7999B"/>
<rect x="513.2" y="456.3" width="8.8" height="6.3" fill="#F7999B"/>
<rect x="485.4" y="446.4" width="8.8" height="5.5" fill="#F7999B"/>
<rect x="513.2" y="446.4" width="8.8" height="5.5" fill="#F7999B"/>
<path d="M487 448.9 L523 448.9 L526.3 452 L525.5 481 L518.75 487.5 L518.75 503.25" fill="none" stroke="#F7999B" stroke-width="3.6" stroke-linecap="round" stroke-linejoin="round"/>
<rect x="529" y="484" width="5.2" height="9.6" fill="#F7999B"/>
<path d="M531.6 490 L532.5 503.25" fill="none" stroke="#F7999B" stroke-width="3.6" stroke-linecap="round" stroke-linejoin="round"/>
<path d="M587.4 462.2 L587.5 503.25" fill="none" stroke="#F7999B" stroke-width="3.6" stroke-linecap="round" stroke-linejoin="round"/>
<path d="M601.6 462.2 L601.25 503.25" fill="none" stroke="#F7999B" stroke-width="3.6" stroke-linecap="round" stroke-linejoin="round"/>
<path d="M614.8 440.3 L614.8 503.25" fill="none" stroke="#F7999B" stroke-width="4" stroke-linecap="round" stroke-linejoin="round"/>
<path d="M587.4 448.4 L587.4 443.3 L607.2 423.8 L732 423.8" fill="none" stroke="#F7999B" stroke-width="3.8" stroke-linecap="round" stroke-linejoin="round"/>
<path d="M601.6 448.4 L601.6 439.8 L611 430.7 L732 430.7" fill="none" stroke="#F7999B" stroke-width="3.8" stroke-linecap="round" stroke-linejoin="round"/>
<path d="M637.3 483.4 L637.3 504.5 L615 503.5" fill="none" stroke="#F7999B" stroke-width="3.6" stroke-linecap="round" stroke-linejoin="round"/>
<path d="M408.5 440.3 L366.3 440.3 L353.75 452.5 L353.75 460" fill="none" stroke="#F7999B" stroke-width="3.2" stroke-linecap="round" stroke-linejoin="round"/>
<rect x="771.3" y="355" width="11.6" height="11.3" fill="#F7999B"/>
<rect x="799.3" y="355.2" width="11.7" height="11.8" fill="#F7999B"/>
<path d="M805.2 366 L805.2 380" fill="none" stroke="#F7999B" stroke-width="7.6" stroke-linecap="butt" stroke-linejoin="round"/>
<path d="M804.5 380 L804.5 393.75" fill="none" stroke="#F7999B" stroke-width="6" stroke-linecap="butt" stroke-linejoin="round"/>
<path d="M804.5 393.75 L804.5 460 L810.5 466.3 L836.3 466.3" fill="none" stroke="#F7999B" stroke-width="4" stroke-linecap="round" stroke-linejoin="round"/>
<path d="M731.75 413.9 L804.5 413.9" fill="none" stroke="#F7999B" stroke-width="4" stroke-linecap="round" stroke-linejoin="round"/>
<path d="M942 393.75 L942 410.5 L836.5 410.5 L836.5 438" fill="none" stroke="#F7999B" stroke-width="7" stroke-linecap="round" stroke-linejoin="round"/>
<path d="M928.25 380 L928.25 393.75" fill="none" stroke="#F7999B" stroke-width="5" stroke-linecap="butt" stroke-linejoin="round"/>
<path d="M942 380 L942 393.75" fill="none" stroke="#F7999B" stroke-width="5" stroke-linecap="butt" stroke-linejoin="round"/>
<path d="M955.75 380 L955.75 393.75" fill="none" stroke="#F7999B" stroke-width="5" stroke-linecap="butt" stroke-linejoin="round"/>
<path d="M942 393.75 L955.75 393.75" fill="none" stroke="#F7999B" stroke-width="5" stroke-linecap="butt" stroke-linejoin="round"/>
<path d="M942 412 L955.5 425 L971 425 L980 433.5" fill="none" stroke="#F7999B" stroke-width="4" stroke-linecap="round" stroke-linejoin="round"/>
<rect x="814" y="433" width="9" height="5.9" fill="#F7999B"/>
<path d="M821 435.5 L826 436 L836 438" fill="none" stroke="#F7999B" stroke-width="5" stroke-linecap="butt" stroke-linejoin="round"/>
<rect x="814" y="443" width="9" height="7" fill="#F7999B"/>
<rect x="814" y="452.8" width="9" height="6.9" fill="#F7999B"/>
<path d="M821 446 L826 447 L828 451.9 L826 457 L821 457.6" fill="none" stroke="#F7999B" stroke-width="5" stroke-linecap="butt" stroke-linejoin="round"/>
<path d="M828 451.9 L836 451.9" fill="none" stroke="#F7999B" stroke-width="5" stroke-linecap="butt" stroke-linejoin="round"/>
<rect x="814" y="464" width="9" height="5.7" fill="#F7999B"/>
<rect x="980.4" y="380" width="8.6" height="5.6" fill="#F7999B"/>
<path d="M984.6 390.6 L984.6 414" fill="none" stroke="#F7999B" stroke-width="9.2" stroke-linecap="butt" stroke-linejoin="round"/>
<path d="M956 410.4 L990 410.4" fill="none" stroke="#F7999B" stroke-width="7.2" stroke-linecap="butt" stroke-linejoin="round"/>
<rect x="954.9" y="404.8" width="6.8" height="10.9" fill="#F7999B"/>
<rect x="979.4" y="404.3" width="11.4" height="11.4" fill="#F7999B"/>
<rect x="978.5" y="432.5" width="7.5" height="5.5" fill="#F7999B"/>
<rect x="978.5" y="443.2" width="7.5" height="5.3" fill="#F7999B"/>
<path d="M982 447 L988 451.8 L1003 451.8" fill="none" stroke="#F7999B" stroke-width="3.6" stroke-linecap="round" stroke-linejoin="round"/>
<rect x="997.2" y="449.3" width="8.5" height="4.6" fill="#F7999B"/>
<rect x="997.2" y="429.4" width="8.5" height="5" fill="#F7999B"/>
<path d="M1001.5 431 L1001.5 405 L1005 401 L1023.4 401 L1037 415.7" fill="none" stroke="#F7999B" stroke-width="3.6" stroke-linecap="round" stroke-linejoin="round"/>
<circle cx="1001.5" cy="442" r="3" fill="#F7999B"/>
<rect x="1006.6" y="404.5" width="12.1" height="10.3" fill="#F7999B"/>
<path d="M1013 410 L1013 428 L1026.2 443.2" fill="none" stroke="#F7999B" stroke-width="6.5" stroke-linecap="round" stroke-linejoin="round"/>
<path d="M700 423.8 L751.5 423.8 L843.7 516 L959 516" fill="none" stroke="#F7999B" stroke-width="4" stroke-linecap="round" stroke-linejoin="round"/>
<path d="M959 516 L961 516.5 L965.8 522.3 L965.8 548" fill="none" stroke="#F7999B" stroke-width="1.8" stroke-linecap="round" stroke-linejoin="round"/>
<path d="M700 430.7 L744.7 430.7 L839.3 525.3 L937.5 525.3" fill="none" stroke="#F7999B" stroke-width="4" stroke-linecap="round" stroke-linejoin="round"/>
<path d="M937.5 525.3 L939 526.5 L942.7 533 L974.5 563.5 L974.5 576" fill="none" stroke="#F7999B" stroke-width="1.8" stroke-linecap="round" stroke-linejoin="round"/>
<path d="M731.75 455.5 L673.2 514.2 L622 514.2" fill="none" stroke="#F7999B" stroke-width="4" stroke-linecap="round" stroke-linejoin="round"/>
<rect x="633" y="510.6" width="7.5" height="6.6" fill="#F7999B"/>
<path d="M962.2 541 L962.2 550" fill="none" stroke="#F7999B" stroke-width="1.1" stroke-linecap="butt" stroke-linejoin="round"/>
<path d="M962.2 574 L962.2 581.6" fill="none" stroke="#F7999B" stroke-width="1.1" stroke-linecap="butt" stroke-linejoin="round"/>
<path d="M964.37 541 L964.37 550" fill="none" stroke="#F7999B" stroke-width="1.1" stroke-linecap="butt" stroke-linejoin="round"/>
<path d="M964.37 574 L964.37 581.6" fill="none" stroke="#F7999B" stroke-width="1.1" stroke-linecap="butt" stroke-linejoin="round"/>
<path d="M966.54 541 L966.54 550" fill="none" stroke="#F7999B" stroke-width="1.1" stroke-linecap="butt" stroke-linejoin="round"/>
<path d="M966.54 574 L966.54 581.6" fill="none" stroke="#F7999B" stroke-width="1.1" stroke-linecap="butt" stroke-linejoin="round"/>
<path d="M968.71 541 L968.71 550" fill="none" stroke="#F7999B" stroke-width="1.1" stroke-linecap="butt" stroke-linejoin="round"/>
<path d="M968.71 574 L968.71 581.6" fill="none" stroke="#F7999B" stroke-width="1.1" stroke-linecap="butt" stroke-linejoin="round"/>
<path d="M970.88 541 L970.88 550" fill="none" stroke="#F7999B" stroke-width="1.1" stroke-linecap="butt" stroke-linejoin="round"/>
<path d="M970.88 574 L970.88 581.6" fill="none" stroke="#F7999B" stroke-width="1.1" stroke-linecap="butt" stroke-linejoin="round"/>
<path d="M973.05 541 L973.05 550" fill="none" stroke="#F7999B" stroke-width="1.1" stroke-linecap="butt" stroke-linejoin="round"/>
<path d="M973.05 574 L973.05 581.6" fill="none" stroke="#F7999B" stroke-width="1.1" stroke-linecap="butt" stroke-linejoin="round"/>
<path d="M951.6 535 L957 540 L962 541" fill="none" stroke="#F7999B" stroke-width="1.4" stroke-linecap="round" stroke-linejoin="round"/>
<path d="M960 534 L964 541" fill="none" stroke="#F7999B" stroke-width="1.4" stroke-linecap="round" stroke-linejoin="round"/>
<path d="M971 534 L968.5 541" fill="none" stroke="#F7999B" stroke-width="1.4" stroke-linecap="round" stroke-linejoin="round"/>
<path d="M978.8 538.2 L973 541 L973 549" fill="none" stroke="#F7999B" stroke-width="1.4" stroke-linecap="round" stroke-linejoin="round"/>
<rect x="957" y="526.7" width="6" height="7.4" fill="#F7999B"/>
<rect x="968" y="526.7" width="5.8" height="7.6" fill="#F7999B"/>
<circle cx="951.6" cy="535" r="2.5" fill="#F7999B"/>
<circle cx="978.8" cy="538.2" r="2.8" fill="#F7999B"/>
<path d="M971 530.5 L982 526.7 L1030 526.7 L1043.9 530" fill="none" stroke="#F7999B" stroke-width="4.6" stroke-linecap="round" stroke-linejoin="round"/>
<rect x="987.5" y="534.6" width="7.2" height="5.8" fill="#F7999B"/>
<rect x="1002.7" y="534.6" width="6.5" height="5.8" fill="#F7999B"/>
<rect x="991" y="559" width="5" height="6.7" fill="#F7999B"/>
<rect x="1001" y="559" width="6" height="6.7" fill="#F7999B"/>
<rect x="994.7" y="571.5" width="4.3" height="5.5" fill="#F7999B"/>
<rect x="1002" y="571.5" width="5" height="5.5" fill="#F7999B"/>
<rect x="1015" y="578" width="6.4" height="5.8" fill="#F7999B"/>
<rect x="1015" y="588" width="6.4" height="6" fill="#F7999B"/>
<rect x="1036.6" y="565.7" width="5.8" height="5.8" fill="#F7999B"/>
<rect x="964.4" y="588.8" width="5.7" height="6.5" fill="#F7999B"/>
<rect x="974.5" y="586" width="7.2" height="6.4" fill="#F7999B"/>
<path d="M991 537.5 L991 545" fill="none" stroke="#F7999B" stroke-width="2" stroke-linecap="round" stroke-linejoin="round"/>
<path d="M1006 537.5 L1006 546" fill="none" stroke="#F7999B" stroke-width="2" stroke-linecap="round" stroke-linejoin="round"/>
<path d="M994 562 L1003 562" fill="none" stroke="#F7999B" stroke-width="2" stroke-linecap="round" stroke-linejoin="round"/>
<path d="M1004 574 L1016 568.6 L1038 568.6" fill="none" stroke="#F7999B" stroke-width="1.6" stroke-linecap="round" stroke-linejoin="round"/>
<path d="M1018 574.5 L1018 594" fill="none" stroke="#F7999B" stroke-width="2" stroke-linecap="round" stroke-linejoin="round"/>
<path d="M978 589 L978 578" fill="none" stroke="#F7999B" stroke-width="1.6" stroke-linecap="round" stroke-linejoin="round"/>
<path d="M964 553 L974.5 563.5" fill="none" stroke="#F7999B" stroke-width="1.6" stroke-linecap="round" stroke-linejoin="round"/>
<path d="M970.5 586 L974 593 L988 593 L999.5 581.5 L999.5 566" fill="none" stroke="#F7999B" stroke-width="1.4" stroke-linecap="round" stroke-linejoin="round"/>
<path d="M996.5 574 L985 574" fill="none" stroke="#F7999B" stroke-width="1.6" stroke-linecap="round" stroke-linejoin="round"/>
<path d="M1043.9 530 L1043.9 551.6 L1051.8 560.4 L1051.8 574 L1043.9 582 L1043.9 595.7" fill="none" stroke="#F7999B" stroke-width="5" stroke-linecap="round" stroke-linejoin="round"/>
<path d="M1043.9 595.7 L1013.5 597.6 L1010.6 599.8 L976 600.4 L970.1 609 L965.8 609 L955.7 600.4 L955.7 589" fill="none" stroke="#F7999B" stroke-width="5.4" stroke-linecap="round" stroke-linejoin="round"/>
<path d="M955.7 592 L966 592" fill="none" stroke="#F7999B" stroke-width="4" stroke-linecap="round" stroke-linejoin="round"/>
<rect x="904.4" y="545.9" width="4.4" height="8.7" fill="#F7999B"/>
<circle cx="916.2" cy="550.2" r="3.2" fill="#F7999B"/>
<rect x="923.9" y="545.9" width="6.6" height="8.7" fill="#F7999B"/>
<rect x="904.4" y="570.8" width="4.4" height="8.7" fill="#F7999B"/>
<circle cx="916.2" cy="575.1" r="3.2" fill="#F7999B"/>
<rect x="923.9" y="570.8" width="6.6" height="8.7" fill="#F7999B"/>
<path d="M906.5 577 L906.5 581.5 L909 584.2 L934 584.2 L938 581" fill="none" stroke="#F7999B" stroke-width="5" stroke-linecap="round" stroke-linejoin="round"/>
<path d="M925.5 572 L925.5 567 L930 562.5 L938.5 561.8 L946 554.5 L952 554.5" fill="none" stroke="#F7999B" stroke-width="5" stroke-linecap="round" stroke-linejoin="round"/>
<path d="M927 550.2 L936 550.2" fill="none" stroke="#F7999B" stroke-width="4" stroke-linecap="round" stroke-linejoin="round"/>
<path d="M386.5 461.5 L395 461.5 L399 466.5 L399 516 L407 524.6 L470 524.6 L482 536.5" fill="none" stroke="#F7999B" stroke-width="1.3" stroke-linecap="round" stroke-linejoin="round"/>
<path d="M390 468.8 L395 473.7 L395 517.6 L405 527.5 L467 527.5 L477.4 538" fill="none" stroke="#F7999B" stroke-width="1.3" stroke-linecap="round" stroke-linejoin="round"/>
<path d="M381.3 480 L381.3 483 L385.3 487.5 L385.3 511 L404.8 530.4 L464 530.4 L468 534.5 L468 540" fill="none" stroke="#F7999B" stroke-width="1.3" stroke-linecap="round" stroke-linejoin="round"/>
<path d="M367.5 480 L367.5 493 L372.3 504.6 L400.6 532.9 L460 532.9 L463.5 537" fill="none" stroke="#F7999B" stroke-width="1.3" stroke-linecap="round" stroke-linejoin="round"/>
<path d="M353.75 480 L353.75 484.5 L360 489 L365 489" fill="none" stroke="#F7999B" stroke-width="3" stroke-linecap="round" stroke-linejoin="round"/>
<path d="M381.25 480 L377 486 L371 489" fill="none" stroke="#F7999B" stroke-width="3" stroke-linecap="round" stroke-linejoin="round"/>
<path d="M367.5 480 L367.5 492" fill="none" stroke="#F7999B" stroke-width="3" stroke-linecap="round" stroke-linejoin="round"/>
<path d="M477.4 549 L484 558 L488 560.5 L500 560.5 L504 558 L511 558" fill="none" stroke="#F7999B" stroke-width="1.3" stroke-linecap="round" stroke-linejoin="round"/>
<path d="M463.5 549 L480 566" fill="none" stroke="#F7999B" stroke-width="1.3" stroke-linecap="round" stroke-linejoin="round"/>
<rect x="487.5" y="552" width="7.2" height="7.3" fill="#F7999B"/>
<path d="M518.75 544.9 L512 555.7 L512 565.8 L533.7 565.8 L539.5 560 L539.5 550" fill="none" stroke="#F7999B" stroke-width="4" stroke-linecap="round" stroke-linejoin="round"/>
<rect x="510.4" y="554.5" width="5.8" height="8.5" fill="#F7999B"/>
<rect x="521.4" y="555.7" width="5.2" height="6.6" fill="#F7999B"/>
<path d="M524 557 L529.5 551.5 L532.5 544.9" fill="none" stroke="#F7999B" stroke-width="3.4" stroke-linecap="round" stroke-linejoin="round"/>
<path d="M532.5 503.25 L532.5 512 L530.8 516 L530.8 535 L532.5 544.9" fill="none" stroke="#F7999B" stroke-width="3.2" stroke-linecap="round" stroke-linejoin="round"/>
<rect x="517.1" y="526.8" width="5.8" height="8.7" fill="#F7999B"/>
<path d="M520 535 L518.75 544.9" fill="none" stroke="#F7999B" stroke-width="3" stroke-linecap="round" stroke-linejoin="round"/>
<path d="M622 514.2 L541.4 514.2 L541.4 533" fill="none" stroke="#F7999B" stroke-width="4" stroke-linecap="round" stroke-linejoin="round"/>
<path d="M546.25 544.9 L546.25 540 L541 534" fill="none" stroke="#F7999B" stroke-width="3" stroke-linecap="round" stroke-linejoin="round"/>
</g>
<g id="cutext">
<text class="s" transform="translate(64.2 201.5) scale(-1 1)" font-size="13" fill="#F7999B" textLength="5.2" lengthAdjust="spacingAndGlyphs">0</text>
<text class="s" transform="translate(187.95 201.5) scale(-1 1)" font-size="13" fill="#F7999B" textLength="5.2" lengthAdjust="spacingAndGlyphs">1</text>
<text class="s" transform="translate(311.7 201.5) scale(-1 1)" font-size="13" fill="#F7999B" textLength="5.2" lengthAdjust="spacingAndGlyphs">2</text>
<text class="s" transform="translate(435.45 201.5) scale(-1 1)" font-size="13" fill="#F7999B" textLength="5.2" lengthAdjust="spacingAndGlyphs">3</text>
<text class="s" transform="translate(559.2 201.5) scale(-1 1)" font-size="13" fill="#F7999B" textLength="5.2" lengthAdjust="spacingAndGlyphs">4</text>
<text class="s" transform="translate(682.95 201.5) scale(-1 1)" font-size="13" fill="#F7999B" textLength="5.2" lengthAdjust="spacingAndGlyphs">5</text>
<text class="s" transform="translate(806.7 201.5) scale(-1 1)" font-size="13" fill="#F7999B" textLength="5.2" lengthAdjust="spacingAndGlyphs">6</text>
<text class="s" transform="translate(930.45 201.5) scale(-1 1)" font-size="13" fill="#F7999B" textLength="5.2" lengthAdjust="spacingAndGlyphs">7</text>
<text class="b" transform="translate(87 314.3) scale(-1 1)" font-size="15.5" fill="#F7999B" textLength="7" lengthAdjust="spacingAndGlyphs">7</text>
<text class="b" transform="translate(87 368.46) scale(-1 1)" font-size="15.5" fill="#F7999B" textLength="7" lengthAdjust="spacingAndGlyphs">6</text>
<text class="b" transform="translate(87 422.62) scale(-1 1)" font-size="15.5" fill="#F7999B" textLength="7" lengthAdjust="spacingAndGlyphs">5</text>
<text class="b" transform="translate(87 476.78) scale(-1 1)" font-size="15.5" fill="#F7999B" textLength="7" lengthAdjust="spacingAndGlyphs">4</text>
<text class="b" transform="translate(87 530.94) scale(-1 1)" font-size="15.5" fill="#F7999B" textLength="7" lengthAdjust="spacingAndGlyphs">3</text>
<text class="b" transform="translate(87 585.1) scale(-1 1)" font-size="15.5" fill="#F7999B" textLength="7" lengthAdjust="spacingAndGlyphs">2</text>
<text class="b" transform="translate(87 639.26) scale(-1 1)" font-size="15.5" fill="#F7999B" textLength="7" lengthAdjust="spacingAndGlyphs">1</text>
<text class="b" transform="translate(87 693.42) scale(-1 1)" font-size="15.5" fill="#F7999B" textLength="7" lengthAdjust="spacingAndGlyphs">0</text>
<text class="b" transform="translate(130.3 815.9) scale(-1 1)" font-size="19.5" fill="#F7999B" textLength="8" lengthAdjust="spacingAndGlyphs">0</text>
<text class="b" transform="translate(254.05 815.9) scale(-1 1)" font-size="19.5" fill="#F7999B" textLength="8" lengthAdjust="spacingAndGlyphs">1</text>
<text class="b" transform="translate(377.8 815.9) scale(-1 1)" font-size="19.5" fill="#F7999B" textLength="8" lengthAdjust="spacingAndGlyphs">2</text>
<text class="b" transform="translate(501.55 815.9) scale(-1 1)" font-size="19.5" fill="#F7999B" textLength="8" lengthAdjust="spacingAndGlyphs">3</text>
<text class="b" transform="translate(625.3 815.9) scale(-1 1)" font-size="19.5" fill="#F7999B" textLength="8" lengthAdjust="spacingAndGlyphs">4</text>
<text class="b" transform="translate(749.05 815.9) scale(-1 1)" font-size="19.5" fill="#F7999B" textLength="8" lengthAdjust="spacingAndGlyphs">5</text>
<text class="b" transform="translate(872.8 815.9) scale(-1 1)" font-size="19.5" fill="#F7999B" textLength="8" lengthAdjust="spacingAndGlyphs">6</text>
<text class="b" transform="translate(996.55 815.9) scale(-1 1)" font-size="19.5" fill="#F7999B" textLength="8" lengthAdjust="spacingAndGlyphs">7</text>
<text class="s" transform="translate(666.5 449.3) scale(-1 1)" font-size="10" fill="#F7999B" textLength="26.5" lengthAdjust="spacingAndGlyphs">RESET</text>
<text class="s" transform="translate(630 491.5) scale(-1 1)" font-size="10.5" fill="#F7999B">1</text>
<text class="s" transform="translate(773 406.3) scale(-1 1)" font-size="11.3" fill="#F7999B" textLength="17.5" lengthAdjust="spacingAndGlyphs">+5V</text>
<text class="s" transform="translate(782.3 576.4) scale(-1 1)" font-size="10.2" fill="#F7999B" textLength="61.7" lengthAdjust="spacingAndGlyphs">WWW.MLAB.CZ</text>
<text class="s" transform="translate(781.6 589.3) scale(-1 1)" font-size="10.2" fill="#F7999B" textLength="65" lengthAdjust="spacingAndGlyphs">(c) miho 2013</text>
<text class="s" transform="translate(780.3 605.5) scale(-1 1)" font-size="10.2" fill="#F7999B" textLength="40.7" lengthAdjust="spacingAndGlyphs">TRAIN02A</text>
</g>
<g id="silk">
<rect shape-rendering="crispEdges" x="4.9" y="3.5" width="1096.8" height="821.3" fill="none" stroke="#000" stroke-width="1.3"/>
<circle cx="30.5" cy="29.25" r="16.5" fill="#000"/>
<circle cx="1075.3" cy="29.25" r="16.5" fill="#000"/>
<circle cx="30.5" cy="799" r="16.5" fill="#000"/>
<circle cx="1075.3" cy="799" r="16.5" fill="#000"/>
<rect shape-rendering="crispEdges" x="63.25" y="3.5" width="113.65" height="81.75" fill="none" stroke="#000" stroke-width="1"/>
<rect x="71.1" y="22" width="17" height="18" fill="#000"/>
<rect x="71.1" y="49" width="17" height="18" fill="#000"/>
<path shape-rendering="crispEdges" d="M76.6 85.25 L76.6 93 L71.4 93 L71.4 99.25 L87.8 99.25 L87.8 93 L82.6 93 L82.6 85.25" fill="none" stroke="#000" stroke-width="1" stroke-linejoin="miter"/>
<circle cx="106.25" cy="31" r="8.5" fill="#000"/>
<circle cx="106.25" cy="58" r="8.5" fill="#000"/>
<path shape-rendering="crispEdges" d="M103.25 85.25 L103.25 93 L98.05 93 L98.05 99.25 L114.45 99.25 L114.45 93 L109.25 93 L109.25 85.25" fill="none" stroke="#000" stroke-width="1" stroke-linejoin="miter"/>
<circle cx="133.25" cy="31" r="8.5" fill="#000"/>
<circle cx="133.25" cy="58" r="8.5" fill="#000"/>
<path shape-rendering="crispEdges" d="M130.25 85.25 L130.25 93 L125.05 93 L125.05 99.25 L141.45 99.25 L141.45 93 L136.25 93 L136.25 85.25" fill="none" stroke="#000" stroke-width="1" stroke-linejoin="miter"/>
<circle cx="160.25" cy="31" r="8.5" fill="#000"/>
<circle cx="160.25" cy="58" r="8.5" fill="#000"/>
<path shape-rendering="crispEdges" d="M157.25 85.25 L157.25 93 L152.05 93 L152.05 99.25 L168.45 99.25 L168.45 93 L163.25 93 L163.25 85.25" fill="none" stroke="#000" stroke-width="1" stroke-linejoin="miter"/>
<rect shape-rendering="crispEdges" x="78.5" y="115.25" width="69.1" height="159.15" fill="none" stroke="#000" stroke-width="1"/>
<circle cx="92.5" cy="126.5" r="8.5" fill="#000"/>
<circle cx="92.5" cy="153.5" r="8.5" fill="#000"/>
<circle cx="92.5" cy="180.5" r="8.5" fill="#000"/>
<circle cx="92.5" cy="262" r="8.5" fill="#000"/>
<circle cx="133.25" cy="126.5" r="8.5" fill="#000"/>
<circle cx="133.25" cy="153.5" r="8.5" fill="#000"/>
<circle cx="133.25" cy="180.5" r="8.5" fill="#000"/>
<circle cx="133.25" cy="262" r="8.5" fill="#000"/>
<rect shape-rendering="crispEdges" x="187" y="3.5" width="113.65" height="81.75" fill="none" stroke="#000" stroke-width="1"/>
<rect x="194.85" y="22" width="17" height="18" fill="#000"/>
<rect x="194.85" y="49" width="17" height="18" fill="#000"/>
<path shape-rendering="crispEdges" d="M200.35 85.25 L200.35 93 L195.15 93 L195.15 99.25 L211.55 99.25 L211.55 93 L206.35 93 L206.35 85.25" fill="none" stroke="#000" stroke-width="1" stroke-linejoin="miter"/>
<circle cx="230" cy="31" r="8.5" fill="#000"/>
<circle cx="230" cy="58" r="8.5" fill="#000"/>
<path shape-rendering="crispEdges" d="M227 85.25 L227 93 L221.8 93 L221.8 99.25 L238.2 99.25 L238.2 93 L233 93 L233 85.25" fill="none" stroke="#000" stroke-width="1" stroke-linejoin="miter"/>
<circle cx="257" cy="31" r="8.5" fill="#000"/>
<circle cx="257" cy="58" r="8.5" fill="#000"/>
<path shape-rendering="crispEdges" d="M254 85.25 L254 93 L248.8 93 L248.8 99.25 L265.2 99.25 L265.2 93 L260 93 L260 85.25" fill="none" stroke="#000" stroke-width="1" stroke-linejoin="miter"/>
<circle cx="284" cy="31" r="8.5" fill="#000"/>
<circle cx="284" cy="58" r="8.5" fill="#000"/>
<path shape-rendering="crispEdges" d="M281 85.25 L281 93 L275.8 93 L275.8 99.25 L292.2 99.25 L292.2 93 L287 93 L287 85.25" fill="none" stroke="#000" stroke-width="1" stroke-linejoin="miter"/>
<rect shape-rendering="crispEdges" x="202.25" y="115.25" width="69.1" height="159.15" fill="none" stroke="#000" stroke-width="1"/>
<circle cx="216.25" cy="126.5" r="8.5" fill="#000"/>
<circle cx="216.25" cy="153.5" r="8.5" fill="#000"/>
<circle cx="216.25" cy="180.5" r="8.5" fill="#000"/>
<circle cx="216.25" cy="262" r="8.5" fill="#000"/>
<circle cx="257" cy="126.5" r="8.5" fill="#000"/>
<circle cx="257" cy="153.5" r="8.5" fill="#000"/>
<circle cx="257" cy="180.5" r="8.5" fill="#000"/>
<circle cx="257" cy="262" r="8.5" fill="#000"/>
<rect shape-rendering="crispEdges" x="310.75" y="3.5" width="113.65" height="81.75" fill="none" stroke="#000" stroke-width="1"/>
<rect x="318.6" y="22" width="17" height="18" fill="#000"/>
<rect x="318.6" y="49" width="17" height="18" fill="#000"/>
<path shape-rendering="crispEdges" d="M324.1 85.25 L324.1 93 L318.9 93 L318.9 99.25 L335.3 99.25 L335.3 93 L330.1 93 L330.1 85.25" fill="none" stroke="#000" stroke-width="1" stroke-linejoin="miter"/>
<circle cx="353.75" cy="31" r="8.5" fill="#000"/>
<circle cx="353.75" cy="58" r="8.5" fill="#000"/>
<path shape-rendering="crispEdges" d="M350.75 85.25 L350.75 93 L345.55 93 L345.55 99.25 L361.95 99.25 L361.95 93 L356.75 93 L356.75 85.25" fill="none" stroke="#000" stroke-width="1" stroke-linejoin="miter"/>
<circle cx="380.75" cy="31" r="8.5" fill="#000"/>
<circle cx="380.75" cy="58" r="8.5" fill="#000"/>
<path shape-rendering="crispEdges" d="M377.75 85.25 L377.75 93 L372.55 93 L372.55 99.25 L388.95 99.25 L388.95 93 L383.75 93 L383.75 85.25" fill="none" stroke="#000" stroke-width="1" stroke-linejoin="miter"/>
<circle cx="407.75" cy="31" r="8.5" fill="#000"/>
<circle cx="407.75" cy="58" r="8.5" fill="#000"/>
<path shape-rendering="crispEdges" d="M404.75 85.25 L404.75 93 L399.55 93 L399.55 99.25 L415.95 99.25 L415.95 93 L410.75 93 L410.75 85.25" fill="none" stroke="#000" stroke-width="1" stroke-linejoin="miter"/>
<rect shape-rendering="crispEdges" x="326" y="115.25" width="69.1" height="159.15" fill="none" stroke="#000" stroke-width="1"/>
<circle cx="340" cy="126.5" r="8.5" fill="#000"/>
<circle cx="340" cy="153.5" r="8.5" fill="#000"/>
<circle cx="340" cy="180.5" r="8.5" fill="#000"/>
<circle cx="340" cy="262" r="8.5" fill="#000"/>
<circle cx="380.75" cy="126.5" r="8.5" fill="#000"/>
<circle cx="380.75" cy="153.5" r="8.5" fill="#000"/>
<circle cx="380.75" cy="180.5" r="8.5" fill="#000"/>
<circle cx="380.75" cy="262" r="8.5" fill="#000"/>
<rect shape-rendering="crispEdges" x="434.5" y="3.5" width="113.65" height="81.75" fill="none" stroke="#000" stroke-width="1"/>
<rect x="442.35" y="22" width="17" height="18" fill="#000"/>
<rect x="442.35" y="49" width="17" height="18" fill="#000"/>
<path shape-rendering="crispEdges" d="M447.85 85.25 L447.85 93 L442.65 93 L442.65 99.25 L459.05 99.25 L459.05 93 L453.85 93 L453.85 85.25" fill="none" stroke="#000" stroke-width="1" stroke-linejoin="miter"/>
<circle cx="477.5" cy="31" r="8.5" fill="#000"/>
<circle cx="477.5" cy="58" r="8.5" fill="#000"/>
<path shape-rendering="crispEdges" d="M474.5 85.25 L474.5 93 L469.3 93 L469.3 99.25 L485.7 99.25 L485.7 93 L480.5 93 L480.5 85.25" fill="none" stroke="#000" stroke-width="1" stroke-linejoin="miter"/>
<circle cx="504.5" cy="31" r="8.5" fill="#000"/>
<circle cx="504.5" cy="58" r="8.5" fill="#000"/>
<path shape-rendering="crispEdges" d="M501.5 85.25 L501.5 93 L496.3 93 L496.3 99.25 L512.7 99.25 L512.7 93 L507.5 93 L507.5 85.25" fill="none" stroke="#000" stroke-width="1" stroke-linejoin="miter"/>
<circle cx="531.5" cy="31" r="8.5" fill="#000"/>
<circle cx="531.5" cy="58" r="8.5" fill="#000"/>
<path shape-rendering="crispEdges" d="M528.5 85.25 L528.5 93 L523.3 93 L523.3 99.25 L539.7 99.25 L539.7 93 L534.5 93 L534.5 85.25" fill="none" stroke="#000" stroke-width="1" stroke-linejoin="miter"/>
<rect shape-rendering="crispEdges" x="449.75" y="115.25" width="69.1" height="159.15" fill="none" stroke="#000" stroke-width="1"/>
<circle cx="463.75" cy="126.5" r="8.5" fill="#000"/>
<circle cx="463.75" cy="153.5" r="8.5" fill="#000"/>
<circle cx="463.75" cy="180.5" r="8.5" fill="#000"/>
<circle cx="463.75" cy="262" r="8.5" fill="#000"/>
<circle cx="504.5" cy="126.5" r="8.5" fill="#000"/>
<circle cx="504.5" cy="153.5" r="8.5" fill="#000"/>
<circle cx="504.5" cy="180.5" r="8.5" fill="#000"/>
<circle cx="504.5" cy="262" r="8.5" fill="#000"/>
<rect shape-rendering="crispEdges" x="558.25" y="3.5" width="113.65" height="81.75" fill="none" stroke="#000" stroke-width="1"/>
<rect x="566.1" y="22" width="17" height="18" fill="#000"/>
<rect x="566.1" y="49" width="17" height="18" fill="#000"/>
<path shape-rendering="crispEdges" d="M571.6 85.25 L571.6 93 L566.4 93 L566.4 99.25 L582.8 99.25 L582.8 93 L577.6 93 L577.6 85.25" fill="none" stroke="#000" stroke-width="1" stroke-linejoin="miter"/>
<circle cx="601.25" cy="31" r="8.5" fill="#000"/>
<circle cx="601.25" cy="58" r="8.5" fill="#000"/>
<path shape-rendering="crispEdges" d="M598.25 85.25 L598.25 93 L593.05 93 L593.05 99.25 L609.45 99.25 L609.45 93 L604.25 93 L604.25 85.25" fill="none" stroke="#000" stroke-width="1" stroke-linejoin="miter"/>
<circle cx="628.25" cy="31" r="8.5" fill="#000"/>
<circle cx="628.25" cy="58" r="8.5" fill="#000"/>
<path shape-rendering="crispEdges" d="M625.25 85.25 L625.25 93 L620.05 93 L620.05 99.25 L636.45 99.25 L636.45 93 L631.25 93 L631.25 85.25" fill="none" stroke="#000" stroke-width="1" stroke-linejoin="miter"/>
<circle cx="655.25" cy="31" r="8.5" fill="#000"/>
<circle cx="655.25" cy="58" r="8.5" fill="#000"/>
<path shape-rendering="crispEdges" d="M652.25 85.25 L652.25 93 L647.05 93 L647.05 99.25 L663.45 99.25 L663.45 93 L658.25 93 L658.25 85.25" fill="none" stroke="#000" stroke-width="1" stroke-linejoin="miter"/>
<rect shape-rendering="crispEdges" x="573.5" y="115.25" width="69.1" height="159.15" fill="none" stroke="#000" stroke-width="1"/>
<circle cx="587.5" cy="126.5" r="8.5" fill="#000"/>
<circle cx="587.5" cy="153.5" r="8.5" fill="#000"/>
<circle cx="587.5" cy="180.5" r="8.5" fill="#000"/>
<circle cx="587.5" cy="262" r="8.5" fill="#000"/>
<circle cx="628.25" cy="126.5" r="8.5" fill="#000"/>
<circle cx="628.25" cy="153.5" r="8.5" fill="#000"/>
<circle cx="628.25" cy="180.5" r="8.5" fill="#000"/>
<circle cx="628.25" cy="262" r="8.5" fill="#000"/>
<rect shape-rendering="crispEdges" x="682" y="3.5" width="113.65" height="81.75" fill="none" stroke="#000" stroke-width="1"/>
<rect x="689.85" y="22" width="17" height="18" fill="#000"/>
<rect x="689.85" y="49" width="17" height="18" fill="#000"/>
<path shape-rendering="crispEdges" d="M695.35 85.25 L695.35 93 L690.15 93 L690.15 99.25 L706.55 99.25 L706.55 93 L701.35 93 L701.35 85.25" fill="none" stroke="#000" stroke-width="1" stroke-linejoin="miter"/>
<circle cx="725" cy="31" r="8.5" fill="#000"/>
<circle cx="725" cy="58" r="8.5" fill="#000"/>
<path shape-rendering="crispEdges" d="M722 85.25 L722 93 L716.8 93 L716.8 99.25 L733.2 99.25 L733.2 93 L728 93 L728 85.25" fill="none" stroke="#000" stroke-width="1" stroke-linejoin="miter"/>
<circle cx="752" cy="31" r="8.5" fill="#000"/>
<circle cx="752" cy="58" r="8.5" fill="#000"/>
<path shape-rendering="crispEdges" d="M749 85.25 L749 93 L743.8 93 L743.8 99.25 L760.2 99.25 L760.2 93 L755 93 L755 85.25" fill="none" stroke="#000" stroke-width="1" stroke-linejoin="miter"/>
<circle cx="779" cy="31" r="8.5" fill="#000"/>
<circle cx="779" cy="58" r="8.5" fill="#000"/>
<path shape-rendering="crispEdges" d="M776 85.25 L776 93 L770.8 93 L770.8 99.25 L787.2 99.25 L787.2 93 L782 93 L782 85.25" fill="none" stroke="#000" stroke-width="1" stroke-linejoin="miter"/>
<rect shape-rendering="crispEdges" x="697.25" y="115.25" width="69.1" height="159.15" fill="none" stroke="#000" stroke-width="1"/>
<circle cx="711.25" cy="126.5" r="8.5" fill="#000"/>
<circle cx="711.25" cy="153.5" r="8.5" fill="#000"/>
<circle cx="711.25" cy="180.5" r="8.5" fill="#000"/>
<circle cx="711.25" cy="262" r="8.5" fill="#000"/>
<circle cx="752" cy="126.5" r="8.5" fill="#000"/>
<circle cx="752" cy="153.5" r="8.5" fill="#000"/>
<circle cx="752" cy="180.5" r="8.5" fill="#000"/>
<circle cx="752" cy="262" r="8.5" fill="#000"/>
<rect shape-rendering="crispEdges" x="805.75" y="3.5" width="113.65" height="81.75" fill="none" stroke="#000" stroke-width="1"/>
<rect x="813.6" y="22" width="17" height="18" fill="#000"/>
<rect x="813.6" y="49" width="17" height="18" fill="#000"/>
<path shape-rendering="crispEdges" d="M819.1 85.25 L819.1 93 L813.9 93 L813.9 99.25 L830.3 99.25 L830.3 93 L825.1 93 L825.1 85.25" fill="none" stroke="#000" stroke-width="1" stroke-linejoin="miter"/>
<circle cx="848.75" cy="31" r="8.5" fill="#000"/>
<circle cx="848.75" cy="58" r="8.5" fill="#000"/>
<path shape-rendering="crispEdges" d="M845.75 85.25 L845.75 93 L840.55 93 L840.55 99.25 L856.95 99.25 L856.95 93 L851.75 93 L851.75 85.25" fill="none" stroke="#000" stroke-width="1" stroke-linejoin="miter"/>
<circle cx="875.75" cy="31" r="8.5" fill="#000"/>
<circle cx="875.75" cy="58" r="8.5" fill="#000"/>
<path shape-rendering="crispEdges" d="M872.75 85.25 L872.75 93 L867.55 93 L867.55 99.25 L883.95 99.25 L883.95 93 L878.75 93 L878.75 85.25" fill="none" stroke="#000" stroke-width="1" stroke-linejoin="miter"/>
<circle cx="902.75" cy="31" r="8.5" fill="#000"/>
<circle cx="902.75" cy="58" r="8.5" fill="#000"/>
<path shape-rendering="crispEdges" d="M899.75 85.25 L899.75 93 L894.55 93 L894.55 99.25 L910.95 99.25 L910.95 93 L905.75 93 L905.75 85.25" fill="none" stroke="#000" stroke-width="1" stroke-linejoin="miter"/>
<rect shape-rendering="crispEdges" x="821" y="115.25" width="69.1" height="159.15" fill="none" stroke="#000" stroke-width="1"/>
<circle cx="835" cy="126.5" r="8.5" fill="#000"/>
<circle cx="835" cy="153.5" r="8.5" fill="#000"/>
<circle cx="835" cy="180.5" r="8.5" fill="#000"/>
<circle cx="835" cy="262" r="8.5" fill="#000"/>
<circle cx="875.75" cy="126.5" r="8.5" fill="#000"/>
<circle cx="875.75" cy="153.5" r="8.5" fill="#000"/>
<circle cx="875.75" cy="180.5" r="8.5" fill="#000"/>
<circle cx="875.75" cy="262" r="8.5" fill="#000"/>
<rect shape-rendering="crispEdges" x="929.5" y="3.5" width="113.65" height="81.75" fill="none" stroke="#000" stroke-width="1"/>
<rect x="937.35" y="22" width="17" height="18" fill="#000"/>
<rect x="937.35" y="49" width="17" height="18" fill="#000"/>
<path shape-rendering="crispEdges" d="M942.85 85.25 L942.85 93 L937.65 93 L937.65 99.25 L954.05 99.25 L954.05 93 L948.85 93 L948.85 85.25" fill="none" stroke="#000" stroke-width="1" stroke-linejoin="miter"/>
<circle cx="972.5" cy="31" r="8.5" fill="#000"/>
<circle cx="972.5" cy="58" r="8.5" fill="#000"/>
<path shape-rendering="crispEdges" d="M969.5 85.25 L969.5 93 L964.3 93 L964.3 99.25 L980.7 99.25 L980.7 93 L975.5 93 L975.5 85.25" fill="none" stroke="#000" stroke-width="1" stroke-linejoin="miter"/>
<circle cx="999.5" cy="31" r="8.5" fill="#000"/>
<circle cx="999.5" cy="58" r="8.5" fill="#000"/>
<path shape-rendering="crispEdges" d="M996.5 85.25 L996.5 93 L991.3 93 L991.3 99.25 L1007.7 99.25 L1007.7 93 L1002.5 93 L1002.5 85.25" fill="none" stroke="#000" stroke-width="1" stroke-linejoin="miter"/>
<circle cx="1026.5" cy="31" r="8.5" fill="#000"/>
<circle cx="1026.5" cy="58" r="8.5" fill="#000"/>
<path shape-rendering="crispEdges" d="M1023.5 85.25 L1023.5 93 L1018.3 93 L1018.3 99.25 L1034.7 99.25 L1034.7 93 L1029.5 93 L1029.5 85.25" fill="none" stroke="#000" stroke-width="1" stroke-linejoin="miter"/>
<rect shape-rendering="crispEdges" x="944.75" y="115.25" width="69.1" height="159.15" fill="none" stroke="#000" stroke-width="1"/>
<circle cx="958.75" cy="126.5" r="8.5" fill="#000"/>
<circle cx="958.75" cy="153.5" r="8.5" fill="#000"/>
<circle cx="958.75" cy="180.5" r="8.5" fill="#000"/>
<circle cx="958.75" cy="262" r="8.5" fill="#000"/>
<circle cx="999.5" cy="126.5" r="8.5" fill="#000"/>
<circle cx="999.5" cy="153.5" r="8.5" fill="#000"/>
<circle cx="999.5" cy="180.5" r="8.5" fill="#000"/>
<circle cx="999.5" cy="262" r="8.5" fill="#000"/>
<rect shape-rendering="crispEdges" x="4.9" y="291.5" width="81.85" height="437.5" fill="none" stroke="#000" stroke-width="1"/>
<circle cx="32" cy="307.5" r="8.4" fill="#000"/>
<circle cx="59.25" cy="307.5" r="8.4" fill="#000"/>
<path shape-rendering="crispEdges" d="M86.75 304.4 L94.5 304.4 L94.5 299.5 L100.6 299.5 L100.6 315.5 L94.5 315.5 L94.5 310.6 L86.75 310.6" fill="none" stroke="#000" stroke-width="1" stroke-linejoin="miter"/>
<circle cx="32" cy="334.58" r="8.4" fill="#000"/>
<circle cx="59.25" cy="334.58" r="8.4" fill="#000"/>
<path shape-rendering="crispEdges" d="M86.75 331.48 L94.5 331.48 L94.5 326.58 L100.6 326.58 L100.6 342.58 L94.5 342.58 L94.5 337.68 L86.75 337.68" fill="none" stroke="#000" stroke-width="1" stroke-linejoin="miter"/>
<rect shape-rendering="crispEdges" x="171.25" y="329.48" width="38.35" height="16" fill="none" stroke="#000" stroke-width="1"/>
<circle cx="165.75" cy="337.18" r="4.3" fill="#000"/>
<circle cx="214" cy="337.18" r="4.3" fill="#000"/>
<circle cx="32" cy="361.66" r="8.4" fill="#000"/>
<circle cx="59.25" cy="361.66" r="8.4" fill="#000"/>
<path shape-rendering="crispEdges" d="M86.75 358.56 L94.5 358.56 L94.5 353.66 L100.6 353.66 L100.6 369.66 L94.5 369.66 L94.5 364.76 L86.75 364.76" fill="none" stroke="#000" stroke-width="1" stroke-linejoin="miter"/>
<circle cx="32" cy="388.74" r="8.4" fill="#000"/>
<circle cx="59.25" cy="388.74" r="8.4" fill="#000"/>
<path shape-rendering="crispEdges" d="M86.75 385.64 L94.5 385.64 L94.5 380.74 L100.6 380.74 L100.6 396.74 L94.5 396.74 L94.5 391.84 L86.75 391.84" fill="none" stroke="#000" stroke-width="1" stroke-linejoin="miter"/>
<rect shape-rendering="crispEdges" x="171.25" y="383.64" width="38.35" height="16" fill="none" stroke="#000" stroke-width="1"/>
<circle cx="165.75" cy="391.34" r="4.3" fill="#000"/>
<circle cx="214" cy="391.34" r="4.3" fill="#000"/>
<circle cx="32" cy="415.82" r="8.4" fill="#000"/>
<circle cx="59.25" cy="415.82" r="8.4" fill="#000"/>
<path shape-rendering="crispEdges" d="M86.75 412.72 L94.5 412.72 L94.5 407.82 L100.6 407.82 L100.6 423.82 L94.5 423.82 L94.5 418.92 L86.75 418.92" fill="none" stroke="#000" stroke-width="1" stroke-linejoin="miter"/>
<circle cx="32" cy="442.9" r="8.4" fill="#000"/>
<circle cx="59.25" cy="442.9" r="8.4" fill="#000"/>
<path shape-rendering="crispEdges" d="M86.75 439.8 L94.5 439.8 L94.5 434.9 L100.6 434.9 L100.6 450.9 L94.5 450.9 L94.5 446 L86.75 446" fill="none" stroke="#000" stroke-width="1" stroke-linejoin="miter"/>
<rect shape-rendering="crispEdges" x="171.25" y="437.8" width="38.35" height="16" fill="none" stroke="#000" stroke-width="1"/>
<circle cx="165.75" cy="445.5" r="4.3" fill="#000"/>
<circle cx="214" cy="445.5" r="4.3" fill="#000"/>
<circle cx="32" cy="469.98" r="8.4" fill="#000"/>
<circle cx="59.25" cy="469.98" r="8.4" fill="#000"/>
<path shape-rendering="crispEdges" d="M86.75 466.88 L94.5 466.88 L94.5 461.98 L100.6 461.98 L100.6 477.98 L94.5 477.98 L94.5 473.08 L86.75 473.08" fill="none" stroke="#000" stroke-width="1" stroke-linejoin="miter"/>
<circle cx="32" cy="497.06" r="8.4" fill="#000"/>
<circle cx="59.25" cy="497.06" r="8.4" fill="#000"/>
<path shape-rendering="crispEdges" d="M86.75 493.96 L94.5 493.96 L94.5 489.06 L100.6 489.06 L100.6 505.06 L94.5 505.06 L94.5 500.16 L86.75 500.16" fill="none" stroke="#000" stroke-width="1" stroke-linejoin="miter"/>
<rect shape-rendering="crispEdges" x="171.25" y="491.96" width="38.35" height="16" fill="none" stroke="#000" stroke-width="1"/>
<circle cx="165.75" cy="499.66" r="4.3" fill="#000"/>
<circle cx="214" cy="499.66" r="4.3" fill="#000"/>
<circle cx="32" cy="524.14" r="8.4" fill="#000"/>
<circle cx="59.25" cy="524.14" r="8.4" fill="#000"/>
<path shape-rendering="crispEdges" d="M86.75 521.04 L94.5 521.04 L94.5 516.14 L100.6 516.14 L100.6 532.14 L94.5 532.14 L94.5 527.24 L86.75 527.24" fill="none" stroke="#000" stroke-width="1" stroke-linejoin="miter"/>
<circle cx="32" cy="551.22" r="8.4" fill="#000"/>
<circle cx="59.25" cy="551.22" r="8.4" fill="#000"/>
<path shape-rendering="crispEdges" d="M86.75 548.12 L94.5 548.12 L94.5 543.22 L100.6 543.22 L100.6 559.22 L94.5 559.22 L94.5 554.32 L86.75 554.32" fill="none" stroke="#000" stroke-width="1" stroke-linejoin="miter"/>
<rect shape-rendering="crispEdges" x="171.25" y="546.12" width="38.35" height="16" fill="none" stroke="#000" stroke-width="1"/>
<circle cx="165.75" cy="553.82" r="4.3" fill="#000"/>
<circle cx="214" cy="553.82" r="4.3" fill="#000"/>
<circle cx="32" cy="578.3" r="8.4" fill="#000"/>
<circle cx="59.25" cy="578.3" r="8.4" fill="#000"/>
<path shape-rendering="crispEdges" d="M86.75 575.2 L94.5 575.2 L94.5 570.3 L100.6 570.3 L100.6 586.3 L94.5 586.3 L94.5 581.4 L86.75 581.4" fill="none" stroke="#000" stroke-width="1" stroke-linejoin="miter"/>
<circle cx="32" cy="605.38" r="8.4" fill="#000"/>
<circle cx="59.25" cy="605.38" r="8.4" fill="#000"/>
<path shape-rendering="crispEdges" d="M86.75 602.28 L94.5 602.28 L94.5 597.38 L100.6 597.38 L100.6 613.38 L94.5 613.38 L94.5 608.48 L86.75 608.48" fill="none" stroke="#000" stroke-width="1" stroke-linejoin="miter"/>
<rect shape-rendering="crispEdges" x="171.25" y="600.28" width="38.35" height="16" fill="none" stroke="#000" stroke-width="1"/>
<circle cx="165.75" cy="607.98" r="4.3" fill="#000"/>
<circle cx="214" cy="607.98" r="4.3" fill="#000"/>
<circle cx="32" cy="632.46" r="8.4" fill="#000"/>
<circle cx="59.25" cy="632.46" r="8.4" fill="#000"/>
<path shape-rendering="crispEdges" d="M86.75 629.36 L94.5 629.36 L94.5 624.46 L100.6 624.46 L100.6 640.46 L94.5 640.46 L94.5 635.56 L86.75 635.56" fill="none" stroke="#000" stroke-width="1" stroke-linejoin="miter"/>
<circle cx="32" cy="659.54" r="8.4" fill="#000"/>
<circle cx="59.25" cy="659.54" r="8.4" fill="#000"/>
<path shape-rendering="crispEdges" d="M86.75 656.44 L94.5 656.44 L94.5 651.54 L100.6 651.54 L100.6 667.54 L94.5 667.54 L94.5 662.64 L86.75 662.64" fill="none" stroke="#000" stroke-width="1" stroke-linejoin="miter"/>
<rect shape-rendering="crispEdges" x="171.25" y="654.44" width="38.35" height="16" fill="none" stroke="#000" stroke-width="1"/>
<circle cx="165.75" cy="662.14" r="4.3" fill="#000"/>
<circle cx="214" cy="662.14" r="4.3" fill="#000"/>
<circle cx="32" cy="686.62" r="8.4" fill="#000"/>
<circle cx="59.25" cy="686.62" r="8.4" fill="#000"/>
<path shape-rendering="crispEdges" d="M86.75 683.52 L94.5 683.52 L94.5 678.62 L100.6 678.62 L100.6 694.62 L94.5 694.62 L94.5 689.72 L86.75 689.72" fill="none" stroke="#000" stroke-width="1" stroke-linejoin="miter"/>
<rect x="23" y="705.2" width="17.6" height="17" fill="#000"/>
<rect x="50.65" y="705.2" width="17.3" height="17" fill="#000"/>
<path shape-rendering="crispEdges" d="M86.75 710.6 L94.5 710.6 L94.5 705.7 L100.6 705.7 L100.6 721.7 L94.5 721.7 L94.5 716.8 L86.75 716.8" fill="none" stroke="#000" stroke-width="1" stroke-linejoin="miter"/>
<rect shape-rendering="crispEdges" x="171.25" y="708.6" width="38.35" height="16" fill="none" stroke="#000" stroke-width="1"/>
<circle cx="165.75" cy="716.3" r="4.3" fill="#000"/>
<circle cx="214" cy="716.3" r="4.3" fill="#000"/>
<path d="M353.75 575.8 L353.75 638.4" fill="none" stroke="#000" stroke-width="5.5" stroke-linecap="round" stroke-linejoin="round"/>
<circle cx="353.75" cy="575.8" r="5.5" fill="#000"/>
<circle cx="353.75" cy="638.4" r="5.5" fill="#000"/>
<path d="M367.5 575.8 L367.5 638.4" fill="none" stroke="#000" stroke-width="5.5" stroke-linecap="round" stroke-linejoin="round"/>
<circle cx="367.5" cy="575.8" r="5.5" fill="#000"/>
<circle cx="367.5" cy="638.4" r="5.5" fill="#000"/>
<path d="M381.25 575.8 L381.25 638.4" fill="none" stroke="#000" stroke-width="5.5" stroke-linecap="round" stroke-linejoin="round"/>
<circle cx="381.25" cy="575.8" r="5.5" fill="#000"/>
<circle cx="381.25" cy="638.4" r="5.5" fill="#000"/>
<path d="M395 575.8 L395 638.4" fill="none" stroke="#000" stroke-width="5.5" stroke-linecap="round" stroke-linejoin="round"/>
<circle cx="395" cy="575.8" r="5.5" fill="#000"/>
<circle cx="395" cy="638.4" r="5.5" fill="#000"/>
<path d="M408.75 575.8 L408.75 638.4" fill="none" stroke="#000" stroke-width="5.5" stroke-linecap="round" stroke-linejoin="round"/>
<circle cx="408.75" cy="575.8" r="5.5" fill="#000"/>
<circle cx="408.75" cy="638.4" r="5.5" fill="#000"/>
<path d="M422.5 575.8 L422.5 638.4" fill="none" stroke="#000" stroke-width="5.5" stroke-linecap="round" stroke-linejoin="round"/>
<circle cx="422.5" cy="575.8" r="5.5" fill="#000"/>
<circle cx="422.5" cy="638.4" r="5.5" fill="#000"/>
<path d="M436.25 575.8 L436.25 638.4" fill="none" stroke="#000" stroke-width="5.5" stroke-linecap="round" stroke-linejoin="round"/>
<circle cx="436.25" cy="575.8" r="5.5" fill="#000"/>
<circle cx="436.25" cy="638.4" r="5.5" fill="#000"/>
<circle cx="340" cy="652.3" r="5.9" fill="#000"/>
<circle cx="353.75" cy="652.3" r="5.9" fill="#000"/>
<circle cx="367.5" cy="652.3" r="5.9" fill="#000"/>
<circle cx="381.25" cy="652.3" r="5.9" fill="#000"/>
<circle cx="395" cy="652.3" r="5.9" fill="#000"/>
<circle cx="408.75" cy="652.3" r="5.9" fill="#000"/>
<circle cx="422.5" cy="652.3" r="5.9" fill="#000"/>
<circle cx="436.25" cy="652.3" r="5.9" fill="#000"/>
<rect x="444.35" y="646.15" width="12.3" height="12.3" fill="#000"/>
<rect shape-rendering="crispEdges" x="333.3" y="645.4" width="123.5" height="14.1" fill="none" stroke="#000" stroke-width="1"/>
<path d="M144.2 758.5 A34.6 34.6 0 1 0 144.2 784.9 Z" fill="none" stroke="#000" stroke-width="1.15"/>
<circle cx="113" cy="771.7" r="25" fill="none" stroke="#000" stroke-width="1.15"/>
<circle cx="99.25" cy="757.95" r="7.2" fill="#000"/>
<circle cx="99.25" cy="785.45" r="7.2" fill="#000"/>
<circle cx="126.75" cy="757.95" r="7.2" fill="#000"/>
<circle cx="126.75" cy="785.45" r="7.2" fill="#000"/>
<path d="M267.95 758.5 A34.6 34.6 0 1 0 267.95 784.9 Z" fill="none" stroke="#000" stroke-width="1.15"/>
<circle cx="236.75" cy="771.7" r="25" fill="none" stroke="#000" stroke-width="1.15"/>
<circle cx="223" cy="757.95" r="7.2" fill="#000"/>
<circle cx="223" cy="785.45" r="7.2" fill="#000"/>
<circle cx="250.5" cy="757.95" r="7.2" fill="#000"/>
<circle cx="250.5" cy="785.45" r="7.2" fill="#000"/>
<path d="M391.7 758.5 A34.6 34.6 0 1 0 391.7 784.9 Z" fill="none" stroke="#000" stroke-width="1.15"/>
<circle cx="360.5" cy="771.7" r="25" fill="none" stroke="#000" stroke-width="1.15"/>
<circle cx="346.75" cy="757.95" r="7.2" fill="#000"/>
<circle cx="346.75" cy="785.45" r="7.2" fill="#000"/>
<circle cx="374.25" cy="757.95" r="7.2" fill="#000"/>
<circle cx="374.25" cy="785.45" r="7.2" fill="#000"/>
<path d="M515.45 758.5 A34.6 34.6 0 1 0 515.45 784.9 Z" fill="none" stroke="#000" stroke-width="1.15"/>
<circle cx="484.25" cy="771.7" r="25" fill="none" stroke="#000" stroke-width="1.15"/>
<circle cx="470.5" cy="757.95" r="7.2" fill="#000"/>
<circle cx="470.5" cy="785.45" r="7.2" fill="#000"/>
<circle cx="498" cy="757.95" r="7.2" fill="#000"/>
<circle cx="498" cy="785.45" r="7.2" fill="#000"/>
<path d="M639.2 758.5 A34.6 34.6 0 1 0 639.2 784.9 Z" fill="none" stroke="#000" stroke-width="1.15"/>
<circle cx="608" cy="771.7" r="25" fill="none" stroke="#000" stroke-width="1.15"/>
<circle cx="594.25" cy="757.95" r="7.2" fill="#000"/>
<circle cx="594.25" cy="785.45" r="7.2" fill="#000"/>
<circle cx="621.75" cy="757.95" r="7.2" fill="#000"/>
<circle cx="621.75" cy="785.45" r="7.2" fill="#000"/>
<path d="M762.95 758.5 A34.6 34.6 0 1 0 762.95 784.9 Z" fill="none" stroke="#000" stroke-width="1.15"/>
<circle cx="731.75" cy="771.7" r="25" fill="none" stroke="#000" stroke-width="1.15"/>
<circle cx="718" cy="757.95" r="7.2" fill="#000"/>
<circle cx="718" cy="785.45" r="7.2" fill="#000"/>
<circle cx="745.5" cy="757.95" r="7.2" fill="#000"/>
<circle cx="745.5" cy="785.45" r="7.2" fill="#000"/>
<path d="M886.7 758.5 A34.6 34.6 0 1 0 886.7 784.9 Z" fill="none" stroke="#000" stroke-width="1.15"/>
<circle cx="855.5" cy="771.7" r="25" fill="none" stroke="#000" stroke-width="1.15"/>
<circle cx="841.75" cy="757.95" r="7.2" fill="#000"/>
<circle cx="841.75" cy="785.45" r="7.2" fill="#000"/>
<circle cx="869.25" cy="757.95" r="7.2" fill="#000"/>
<circle cx="869.25" cy="785.45" r="7.2" fill="#000"/>
<path d="M1010.45 758.5 A34.6 34.6 0 1 0 1010.45 784.9 Z" fill="none" stroke="#000" stroke-width="1.15"/>
<circle cx="979.25" cy="771.7" r="25" fill="none" stroke="#000" stroke-width="1.15"/>
<circle cx="965.5" cy="757.95" r="7.2" fill="#000"/>
<circle cx="965.5" cy="785.45" r="7.2" fill="#000"/>
<circle cx="993" cy="757.95" r="7.2" fill="#000"/>
<circle cx="993" cy="785.45" r="7.2" fill="#000"/>
<circle cx="456.75" cy="352.5" r="5.8" fill="#000"/>
<rect x="451.05" y="388.05" width="11.4" height="11.4" fill="#000"/>
<rect x="450.95" y="408.5" width="11.6" height="11.6" fill="#000"/>
<circle cx="470.5" cy="352.5" r="5.8" fill="#000"/>
<circle cx="470.5" cy="393.75" r="5.8" fill="#000"/>
<circle cx="470.5" cy="414.3" r="5.9" fill="#000"/>
<circle cx="484.25" cy="352.5" r="5.8" fill="#000"/>
<circle cx="484.25" cy="393.75" r="5.8" fill="#000"/>
<circle cx="484.25" cy="414.3" r="5.9" fill="#000"/>
<circle cx="498" cy="352.5" r="5.8" fill="#000"/>
<circle cx="498" cy="393.75" r="5.8" fill="#000"/>
<circle cx="498" cy="414.3" r="5.9" fill="#000"/>
<circle cx="511.75" cy="352.5" r="5.8" fill="#000"/>
<circle cx="511.75" cy="393.75" r="5.8" fill="#000"/>
<circle cx="511.75" cy="414.3" r="5.9" fill="#000"/>
<circle cx="525.5" cy="352.5" r="5.8" fill="#000"/>
<circle cx="525.5" cy="393.75" r="5.8" fill="#000"/>
<circle cx="525.5" cy="414.3" r="5.9" fill="#000"/>
<circle cx="539.25" cy="352.5" r="5.8" fill="#000"/>
<circle cx="539.25" cy="393.75" r="5.8" fill="#000"/>
<circle cx="539.25" cy="414.3" r="5.9" fill="#000"/>
<circle cx="553" cy="352.5" r="5.8" fill="#000"/>
<circle cx="553" cy="393.75" r="5.8" fill="#000"/>
<circle cx="553" cy="414.3" r="5.9" fill="#000"/>
<circle cx="566.75" cy="352.5" r="5.8" fill="#000"/>
<circle cx="566.75" cy="393.75" r="5.8" fill="#000"/>
<circle cx="566.75" cy="414.3" r="5.9" fill="#000"/>
<path shape-rendering="crispEdges" d="M449.3 369.3 L449.3 359.5 L573.8 359.5 L573.8 386.3 L449.3 386.3 L449.3 377 L458 377 L458 369.3 L449.3 369.3" fill="none" stroke="#000" stroke-width="1" stroke-linejoin="miter"/>
<rect shape-rendering="crispEdges" x="449.3" y="407.5" width="124.5" height="13.9" fill="none" stroke="#000" stroke-width="1"/>
<circle cx="436.25" cy="503.25" r="6" fill="#000"/>
<circle cx="436.25" cy="544.9" r="6" fill="#000"/>
<circle cx="450" cy="503.25" r="6" fill="#000"/>
<circle cx="450" cy="544.9" r="6" fill="#000"/>
<circle cx="463.75" cy="503.25" r="6" fill="#000"/>
<rect x="459.35" y="539.1" width="8.8" height="11.6" fill="#000" rx="4.2"/>
<circle cx="477.5" cy="503.25" r="6" fill="#000"/>
<rect x="473.1" y="539.1" width="8.8" height="11.6" fill="#000" rx="4.2"/>
<circle cx="491.25" cy="503.25" r="6" fill="#000"/>
<circle cx="491.25" cy="544.9" r="6" fill="#000"/>
<circle cx="505" cy="503.25" r="6" fill="#000"/>
<circle cx="505" cy="544.9" r="6" fill="#000"/>
<circle cx="518.75" cy="503.25" r="6" fill="#000"/>
<circle cx="518.75" cy="544.9" r="6" fill="#000"/>
<circle cx="532.5" cy="503.25" r="6" fill="#000"/>
<rect x="528.1" y="539.1" width="8.8" height="11.6" fill="#000" rx="4.2"/>
<circle cx="546.25" cy="503.25" r="6" fill="#000"/>
<rect x="541.85" y="539.1" width="8.8" height="11.6" fill="#000" rx="4.2"/>
<circle cx="560" cy="503.25" r="6" fill="#000"/>
<circle cx="560" cy="544.9" r="6" fill="#000"/>
<circle cx="573.75" cy="503.25" r="6" fill="#000"/>
<circle cx="573.75" cy="544.9" r="6" fill="#000"/>
<circle cx="587.5" cy="503.25" r="6" fill="#000"/>
<circle cx="587.5" cy="544.9" r="6" fill="#000"/>
<circle cx="601.25" cy="503.25" r="6" fill="#000"/>
<circle cx="601.25" cy="544.9" r="6" fill="#000"/>
<rect x="609.2" y="497.45" width="11.6" height="11.6" fill="#000"/>
<circle cx="615" cy="544.9" r="6" fill="#000"/>
<path shape-rendering="crispEdges" d="M621.8 520.5 L621.8 510 L429.4 510 L429.4 537.5 L621.8 537.5 L621.8 528.8 L613.8 528.8 L613.8 520.5 L621.8 520.5" fill="none" stroke="#000" stroke-width="1" stroke-linejoin="miter"/>
<path d="M422.4 503.25 L422.4 544.9" fill="none" stroke="#000" stroke-width="5.2" stroke-linecap="round" stroke-linejoin="round"/>
<circle cx="422.4" cy="503.25" r="6" fill="#000"/>
<circle cx="422.4" cy="544.9" r="6" fill="#000"/>
<path d="M408.5 440.3 L614.8 440.3" fill="none" stroke="#000" stroke-width="5" stroke-linecap="round" stroke-linejoin="round"/>
<circle cx="408.5" cy="440.3" r="5.5" fill="#000"/>
<circle cx="614.8" cy="440.3" r="5.5" fill="#000"/>
<path d="M731.75 413.9 L731.75 455.5" fill="none" stroke="#000" stroke-width="4.6" stroke-linecap="round" stroke-linejoin="round"/>
<circle cx="731.75" cy="413.9" r="5.6" fill="#000"/>
<circle cx="731.75" cy="455.5" r="5.6" fill="#000"/>
<rect shape-rendering="crispEdges" x="473.4" y="459.5" width="60" height="27.8" fill="none" stroke="#444" stroke-width="1" rx="13.9"/>
<circle cx="489.8" cy="473.2" r="4.5" fill="#000"/>
<circle cx="517.1" cy="473.2" r="4.5" fill="#000"/>
<rect shape-rendering="crispEdges" x="580.3" y="443" width="28.2" height="26.3" fill="none" stroke="#000" stroke-width="1"/>
<circle cx="587.4" cy="448.4" r="4.7" fill="#000"/>
<rect x="597.1" y="443.9" width="9" height="9" fill="#000"/>
<circle cx="587.4" cy="462.2" r="4.7" fill="#000"/>
<circle cx="601.6" cy="462.2" r="4.7" fill="#000"/>
<rect shape-rendering="crispEdges" x="637.5" y="455.6" width="34.1" height="32.6" fill="none" stroke="#000" stroke-width="1"/>
<circle cx="654.9" cy="471.9" r="8" fill="none" stroke="#000" stroke-width="1.2"/>
<circle cx="637.3" cy="460.5" r="6.9" fill="#000"/>
<circle cx="672" cy="460.5" r="6.9" fill="#000"/>
<circle cx="637.3" cy="483.5" r="6.9" fill="#000"/>
<circle cx="672" cy="483.5" r="6.9" fill="#000"/>
<path shape-rendering="crispEdges" d="M626.2 501.8 L634 501.8" fill="none" stroke="#000" stroke-width="1" stroke-linejoin="miter"/>
<rect shape-rendering="crispEdges" x="346.3" y="454.3" width="42.5" height="27" fill="none" stroke="#000" stroke-width="1"/>
<rect x="348.25" y="455.5" width="11" height="10.6" fill="#000"/>
<rect x="348.25" y="469.3" width="11" height="10.6" fill="#000"/>
<rect x="362" y="455.5" width="11" height="10.6" fill="#000"/>
<rect x="362" y="469.3" width="11" height="10.6" fill="#000"/>
<rect x="375.75" y="455.5" width="11" height="10.6" fill="#000"/>
<rect x="375.75" y="469.3" width="11" height="10.6" fill="#000"/>
<rect shape-rendering="crispEdges" x="784.3" y="373.3" width="41.3" height="27.2" fill="none" stroke="#000" stroke-width="1"/>
<circle cx="790.75" cy="380" r="6.1" fill="#000"/>
<circle cx="790.75" cy="393.75" r="6.1" fill="#000"/>
<circle cx="804.5" cy="380" r="6.1" fill="#000"/>
<circle cx="804.5" cy="393.75" r="6.1" fill="#000"/>
<rect x="813.25" y="373.3" width="12.3" height="12.6" fill="#000"/>
<circle cx="818.6" cy="393.75" r="6.1" fill="#000"/>
<rect shape-rendering="crispEdges" x="921.3" y="373.3" width="55.5" height="27.2" fill="none" stroke="#000" stroke-width="1"/>
<circle cx="928.25" cy="380" r="6.1" fill="#000"/>
<circle cx="928.25" cy="393.75" r="6.1" fill="#000"/>
<circle cx="942" cy="380" r="6.1" fill="#000"/>
<circle cx="942" cy="393.75" r="6.1" fill="#000"/>
<circle cx="955.75" cy="380" r="6.1" fill="#000"/>
<circle cx="955.75" cy="393.75" r="6.1" fill="#000"/>
<rect x="964.1" y="373.3" width="12.6" height="12.6" fill="#000"/>
<circle cx="969.6" cy="393.75" r="6.1" fill="#000"/>
<rect shape-rendering="crispEdges" x="858" y="422.5" width="86.5" height="58.8" fill="none" stroke="#000" stroke-width="1"/>
<path d="M909.5 421.3 L909.5 482.5" fill="none" stroke="#000" stroke-width="4.4" stroke-linecap="butt" stroke-linejoin="round"/>
<circle cx="927.2" cy="453.2" r="12.6" fill="#000"/>
<polygon points="828.85,435.6 832.3,432.2 840.5,432.2 843.95,435.6 843.95,440.4 840.5,443.8 832.3,443.8 828.85,440.4" fill="#000"/>
<path d="M836.3 438 L858 438" fill="none" stroke="#000" stroke-width="3" stroke-linecap="butt" stroke-linejoin="round"/>
<polygon points="828.85,449.6 832.3,446.2 840.5,446.2 843.95,449.6 843.95,454.4 840.5,457.8 832.3,457.8 828.85,454.4" fill="#000"/>
<path d="M836.3 452 L858 452" fill="none" stroke="#000" stroke-width="3" stroke-linecap="butt" stroke-linejoin="round"/>
<polygon points="828.85,463.6 832.3,460.2 840.5,460.2 843.95,463.6 843.95,468.4 840.5,471.8 832.3,471.8 828.85,468.4" fill="#000"/>
<path d="M836.3 466 L858 466" fill="none" stroke="#000" stroke-width="3" stroke-linecap="butt" stroke-linejoin="round"/>
<path shape-rendering="crispEdges" d="M1021.5 425 L1021.5 418.5 L1101.7 418.5" fill="none" stroke="#000" stroke-width="1" stroke-linejoin="miter"/>
<path shape-rendering="crispEdges" d="M1021.5 456 L1021.5 468.3 L1101.7 468.3" fill="none" stroke="#000" stroke-width="1" stroke-linejoin="miter"/>
<path shape-rendering="crispEdges" d="M1080.4 418.5 L1080.4 468.3" fill="none" stroke="#000" stroke-width="1" stroke-linejoin="miter"/>
<circle cx="1037" cy="415.7" r="10" fill="#000"/>
<circle cx="1026.2" cy="443.2" r="10" fill="#000"/>
<circle cx="1059" cy="443.2" r="10" fill="#000"/>
<rect shape-rendering="crispEdges" x="1012.5" y="529.4" width="88.2" height="66" fill="none" stroke="#000" stroke-width="1"/>
<path shape-rendering="crispEdges" d="M1096.8 529.4 L1096.8 595.4" fill="none" stroke="#000" stroke-width="1" stroke-linejoin="miter"/>
<circle cx="1043.9" cy="530" r="9.8" fill="#000"/>
<circle cx="1043.9" cy="595.7" r="9.8" fill="#000"/>
<circle cx="1018.4" cy="555.9" r="4.9" fill="#000"/>
<circle cx="1018.4" cy="569.8" r="4.9" fill="#000"/>
<circle cx="1028.8" cy="555.9" r="4.9" fill="#000"/>
<circle cx="1028.8" cy="569.8" r="4.9" fill="#000"/>
</g>
<g id="labels">
<text class="b" transform="translate(57.2 114.9)" font-size="19.5" fill="#000" textLength="17.6" lengthAdjust="spacingAndGlyphs">J0</text>
<text class="b" transform="translate(69.8 202.3) rotate(-90)" font-size="20.5" fill="#000" textLength="41.5" lengthAdjust="spacingAndGlyphs">OUT0</text>
<text class="b" transform="translate(95.8 235.7)" font-size="19.5" fill="#000" textLength="30" lengthAdjust="spacingAndGlyphs">RE0</text>
<text class="b" transform="translate(180.95 114.9)" font-size="19.5" fill="#000" textLength="17.6" lengthAdjust="spacingAndGlyphs">J1</text>
<text class="b" transform="translate(193.55 202.3) rotate(-90)" font-size="20.5" fill="#000" textLength="41.5" lengthAdjust="spacingAndGlyphs">OUT1</text>
<text class="b" transform="translate(218.95 235.7)" font-size="19.5" fill="#000" textLength="30" lengthAdjust="spacingAndGlyphs">RE1</text>
<text class="b" transform="translate(304.7 114.9)" font-size="19.5" fill="#000" textLength="17.6" lengthAdjust="spacingAndGlyphs">J2</text>
<text class="b" transform="translate(317.3 202.3) rotate(-90)" font-size="20.5" fill="#000" textLength="41.5" lengthAdjust="spacingAndGlyphs">OUT2</text>
<text class="b" transform="translate(344.2 235.7)" font-size="19.5" fill="#000" textLength="31" lengthAdjust="spacingAndGlyphs">RE2</text>
<text class="b" transform="translate(428.45 114.9)" font-size="19.5" fill="#000" textLength="17.6" lengthAdjust="spacingAndGlyphs">J3</text>
<text class="b" transform="translate(441.05 202.3) rotate(-90)" font-size="20.5" fill="#000" textLength="41.5" lengthAdjust="spacingAndGlyphs">OUT3</text>
<text class="b" transform="translate(469.25 235.7)" font-size="19.5" fill="#000" textLength="30.7" lengthAdjust="spacingAndGlyphs">RE3</text>
<text class="b" transform="translate(552.2 114.9)" font-size="19.5" fill="#000" textLength="17.6" lengthAdjust="spacingAndGlyphs">J4</text>
<text class="b" transform="translate(564.8 202.3) rotate(-90)" font-size="20.5" fill="#000" textLength="41.5" lengthAdjust="spacingAndGlyphs">OUT4</text>
<text class="b" transform="translate(592.8 235.7)" font-size="19.5" fill="#000" textLength="30.8" lengthAdjust="spacingAndGlyphs">RE4</text>
<text class="b" transform="translate(675.95 114.9)" font-size="19.5" fill="#000" textLength="17.6" lengthAdjust="spacingAndGlyphs">J5</text>
<text class="b" transform="translate(688.55 202.3) rotate(-90)" font-size="20.5" fill="#000" textLength="41.5" lengthAdjust="spacingAndGlyphs">OUT5</text>
<text class="b" transform="translate(716.85 235.7)" font-size="19.5" fill="#000" textLength="30.2" lengthAdjust="spacingAndGlyphs">RE5</text>
<text class="b" transform="translate(799.7 114.9)" font-size="19.5" fill="#000" textLength="17.6" lengthAdjust="spacingAndGlyphs">J6</text>
<text class="b" transform="translate(812.3 202.3) rotate(-90)" font-size="20.5" fill="#000" textLength="41.5" lengthAdjust="spacingAndGlyphs">OUT6</text>
<text class="b" transform="translate(840.6 235.7)" font-size="19.5" fill="#000" textLength="30" lengthAdjust="spacingAndGlyphs">RE6</text>
<text class="b" transform="translate(923.45 114.9)" font-size="19.5" fill="#000" textLength="17.6" lengthAdjust="spacingAndGlyphs">J7</text>
<text class="b" transform="translate(936.05 202.3) rotate(-90)" font-size="20.5" fill="#000" textLength="41.5" lengthAdjust="spacingAndGlyphs">OUT7</text>
<text class="b" transform="translate(964.35 235.7)" font-size="19.5" fill="#000" textLength="30" lengthAdjust="spacingAndGlyphs">RE7</text>
<text class="b" transform="translate(29.5 758.3)" font-size="19.5" fill="#000" textLength="17.3" lengthAdjust="spacingAndGlyphs">J9</text>
<text class="b" transform="translate(121.7 327.5)" font-size="19.5" fill="#000" textLength="23.3" lengthAdjust="spacingAndGlyphs">IN7</text>
<text class="s" transform="translate(178 340.88)" font-size="10.5" fill="#000" textLength="22" lengthAdjust="spacingAndGlyphs">R207</text>
<text class="b" transform="translate(121.7 381.66)" font-size="19.5" fill="#000" textLength="23.3" lengthAdjust="spacingAndGlyphs">IN6</text>
<text class="s" transform="translate(178 395.04)" font-size="10.5" fill="#000" textLength="22" lengthAdjust="spacingAndGlyphs">R206</text>
<text class="b" transform="translate(121.7 435.82)" font-size="19.5" fill="#000" textLength="23.3" lengthAdjust="spacingAndGlyphs">IN5</text>
<text class="s" transform="translate(178 449.2)" font-size="10.5" fill="#000" textLength="22" lengthAdjust="spacingAndGlyphs">R205</text>
<text class="b" transform="translate(121.7 489.98)" font-size="19.5" fill="#000" textLength="23.3" lengthAdjust="spacingAndGlyphs">IN4</text>
<text class="s" transform="translate(178 503.36)" font-size="10.5" fill="#000" textLength="22" lengthAdjust="spacingAndGlyphs">R204</text>
<text class="b" transform="translate(121.7 544.14)" font-size="19.5" fill="#000" textLength="23.3" lengthAdjust="spacingAndGlyphs">IN3</text>
<text class="s" transform="translate(178 557.52)" font-size="10.5" fill="#000" textLength="22" lengthAdjust="spacingAndGlyphs">R203</text>
<text class="b" transform="translate(121.7 598.3)" font-size="19.5" fill="#000" textLength="23.3" lengthAdjust="spacingAndGlyphs">IN2</text>
<text class="s" transform="translate(178 611.68)" font-size="10.5" fill="#000" textLength="22" lengthAdjust="spacingAndGlyphs">R202</text>
<text class="b" transform="translate(121.7 652.46)" font-size="19.5" fill="#000" textLength="23.3" lengthAdjust="spacingAndGlyphs">IN1</text>
<text class="s" transform="translate(178 665.84)" font-size="10.5" fill="#000" textLength="22" lengthAdjust="spacingAndGlyphs">R201</text>
<text class="b" transform="translate(121.7 706.62)" font-size="19.5" fill="#000" textLength="23.3" lengthAdjust="spacingAndGlyphs">IN0</text>
<text class="s" transform="translate(178 720)" font-size="10.5" fill="#000" textLength="22" lengthAdjust="spacingAndGlyphs">R200</text>
<text class="b" transform="translate(463 660)" font-size="19.5" fill="#000" textLength="23.3" lengthAdjust="spacingAndGlyphs">J16</text>
<text class="b" transform="translate(134 812.6)" font-size="19.5" fill="#000" textLength="32.5" lengthAdjust="spacingAndGlyphs">SW0</text>
<text class="b" transform="translate(257.75 812.6)" font-size="19.5" fill="#000" textLength="32.5" lengthAdjust="spacingAndGlyphs">SW1</text>
<text class="b" transform="translate(381.5 812.6)" font-size="19.5" fill="#000" textLength="32.5" lengthAdjust="spacingAndGlyphs">SW2</text>
<text class="b" transform="translate(505.25 812.6)" font-size="19.5" fill="#000" textLength="32.5" lengthAdjust="spacingAndGlyphs">SW3</text>
<text class="b" transform="translate(629 812.6)" font-size="19.5" fill="#000" textLength="32.5" lengthAdjust="spacingAndGlyphs">SW4</text>
<text class="b" transform="translate(752.75 812.6)" font-size="19.5" fill="#000" textLength="32.5" lengthAdjust="spacingAndGlyphs">SW5</text>
<text class="b" transform="translate(876.5 812.6)" font-size="19.5" fill="#000" textLength="32.5" lengthAdjust="spacingAndGlyphs">SW6</text>
<text class="b" transform="translate(1000.25 812.6)" font-size="19.5" fill="#000" textLength="32.5" lengthAdjust="spacingAndGlyphs">SW7</text>
<text class="s" transform="translate(445.5 380.5) rotate(-90)" font-size="10.5" fill="#000" textLength="13.5" lengthAdjust="spacingAndGlyphs">U3</text>
<text class="s" transform="translate(444.5 397.5) rotate(-90)" font-size="9.5" fill="#000">1</text>
<text class="s" transform="translate(435.5 417.7)" font-size="10.5" fill="#000" textLength="9.5" lengthAdjust="spacingAndGlyphs">J8</text>
<text class="s" transform="translate(625.5 517.5) rotate(90)" font-size="9.5" fill="#000" textLength="11" lengthAdjust="spacingAndGlyphs">U1</text>
<text class="s" transform="translate(498.4 477.4)" font-size="9.5" fill="#000" textLength="9" lengthAdjust="spacingAndGlyphs">X1</text>
<text class="b" transform="translate(557 463)" font-size="19.5" fill="#000" textLength="19.5" lengthAdjust="spacingAndGlyphs">J11</text>
<text class="s" transform="translate(591.3 488.7) rotate(-90)" font-size="10.5" fill="#000" textLength="16.2" lengthAdjust="spacingAndGlyphs">TXD</text>
<text class="s" transform="translate(605.3 488.7) rotate(-90)" font-size="10.5" fill="#000" textLength="16.2" lengthAdjust="spacingAndGlyphs">RXD</text>
<text class="s" transform="translate(590.5 436.5) rotate(-90)" font-size="10.5" fill="#000" textLength="41" lengthAdjust="spacingAndGlyphs">USB_RXD</text>
<text class="s" transform="translate(604.8 436.5) rotate(-90)" font-size="10.5" fill="#000" textLength="41" lengthAdjust="spacingAndGlyphs">USB_TXD</text>
<text class="b" transform="translate(631.5 441.5)" font-size="19.5" fill="#000" textLength="50.5" lengthAdjust="spacingAndGlyphs">RESET</text>
<text class="b" transform="translate(636.3 510)" font-size="19.5" fill="#000" textLength="33.5" lengthAdjust="spacingAndGlyphs">SW8</text>
<text class="b" transform="translate(318.8 475)" font-size="19.5" fill="#000" textLength="22.5" lengthAdjust="spacingAndGlyphs">J12</text>
<text class="s" transform="translate(393.5 463.5)" font-size="9" fill="#000">1</text>
<text class="b" transform="translate(328.8 501.3)" font-size="19.5" fill="#000" textLength="46.5" lengthAdjust="spacingAndGlyphs">Atmel</text>
<text class="b" transform="translate(387 501.3)" font-size="19.5" fill="#000" textLength="23" lengthAdjust="spacingAndGlyphs">ISP</text>
<text class="b" transform="translate(788 363.3)" font-size="19.5" fill="#000" textLength="32" lengthAdjust="spacingAndGlyphs">+5V</text>
<text class="b" transform="translate(755 395)" font-size="19.5" fill="#000" textLength="23.7" lengthAdjust="spacingAndGlyphs">J15</text>
<text class="b" transform="translate(930.7 361.8)" font-size="19.5" fill="#000" textLength="38.8" lengthAdjust="spacingAndGlyphs">+12V</text>
<text class="b" transform="translate(893.8 395)" font-size="19.5" fill="#000" textLength="23.7" lengthAdjust="spacingAndGlyphs">J14</text>
<text class="b" transform="translate(871.5 442) rotate(90)" font-size="21.5" fill="#000" textLength="19.5" lengthAdjust="spacingAndGlyphs">U4</text>
<text class="b" transform="translate(1073.5 412) rotate(-90)" font-size="19.5" fill="#000" textLength="23.3" lengthAdjust="spacingAndGlyphs">J13</text>
<text class="b" transform="translate(1094.5 412) rotate(-90)" font-size="19.5" fill="#000" textLength="38.5" lengthAdjust="spacingAndGlyphs">+12V</text>
<text class="b" transform="translate(1073.5 524) rotate(-90)" font-size="19.5" fill="#000" textLength="23.3" lengthAdjust="spacingAndGlyphs">J10</text>
<text class="b" transform="translate(1093 524) rotate(-90)" font-size="19.5" fill="#000" textLength="28.5" lengthAdjust="spacingAndGlyphs">USB</text>
<text class="b" transform="translate(930.2 556.9)" font-size="19.5" fill="#000" textLength="30" lengthAdjust="spacingAndGlyphs">USB</text>
<text class="b" transform="translate(973.8 556.9)" font-size="19.5" fill="#000" textLength="32.8" lengthAdjust="spacingAndGlyphs">PWR</text>
<text class="b" transform="translate(930.2 582)" font-size="19.5" fill="#000" textLength="30" lengthAdjust="spacingAndGlyphs">USB</text>
<text class="b" transform="translate(973.8 582)" font-size="19.5" fill="#000" textLength="29.8" lengthAdjust="spacingAndGlyphs">ACT</text>
<text class="b" transform="translate(694.2 579.1)" font-size="19.5" fill="#000" textLength="113.8" lengthAdjust="spacingAndGlyphs">WWW.MLAB.CZ</text>
<text class="b" transform="translate(693.5 601.5)" font-size="19.5" fill="#000" textLength="22.5" lengthAdjust="spacingAndGlyphs">(c)</text>
<text class="b" transform="translate(729.5 601.5)" font-size="19.5" fill="#000" textLength="36.5" lengthAdjust="spacingAndGlyphs">miho</text>
<text class="b" transform="translate(781 601.5)" font-size="19.5" fill="#000" textLength="34.5" lengthAdjust="spacingAndGlyphs">2013</text>
<text class="b" transform="translate(716 628.7)" font-size="19.5" fill="#000" textLength="77" lengthAdjust="spacingAndGlyphs">TRAIN02A</text>
</g>
</svg>
</body></html>
